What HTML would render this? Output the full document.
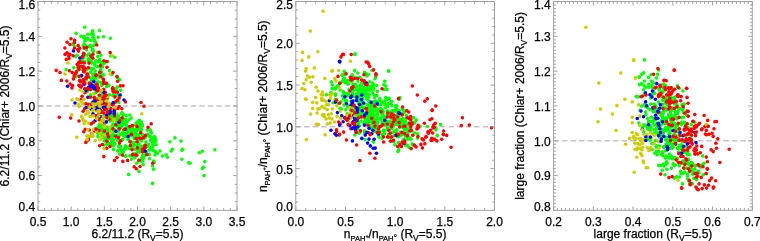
<!DOCTYPE html>
<html><head><meta charset="utf-8"><style>
html,body{margin:0;padding:0;background:#fff;width:760px;height:241px;overflow:hidden}
svg{display:block;will-change:transform}
text{font-family:"Liberation Sans",sans-serif;font-size:12px;fill:#000;stroke:#000;stroke-width:0.25px}
</style></head><body>
<svg width="760" height="241" viewBox="0 0 760 241">
<line x1="38.00" y1="105.95" x2="237.00" y2="105.95" stroke="#c4c4c4" stroke-width="1.5" stroke-dasharray="5.4 3.09"/>
<line x1="295.80" y1="126.84" x2="494.50" y2="126.84" stroke="#c4c4c4" stroke-width="1.5" stroke-dasharray="5.4 3.09"/>
<line x1="553.60" y1="140.77" x2="752.30" y2="140.77" stroke="#c4c4c4" stroke-width="1.5" stroke-dasharray="5.4 3.09"/>
<g fill="#00ff00">
<circle cx="84.3" cy="54.1" r="1.8"/>
<circle cx="138.4" cy="148.9" r="1.8"/>
<circle cx="80.9" cy="66.9" r="1.8"/>
<circle cx="138.7" cy="127.9" r="1.8"/>
<circle cx="122.3" cy="151.8" r="1.8"/>
<circle cx="95.8" cy="42.5" r="1.8"/>
<circle cx="111.3" cy="129.0" r="1.8"/>
<circle cx="137.3" cy="137.1" r="1.8"/>
<circle cx="139.5" cy="151.9" r="1.8"/>
<circle cx="104.3" cy="63.3" r="1.8"/>
<circle cx="139.9" cy="127.3" r="1.8"/>
<circle cx="100.0" cy="74.7" r="1.8"/>
<circle cx="104.1" cy="115.8" r="1.8"/>
<circle cx="149.7" cy="136.4" r="1.8"/>
<circle cx="204.1" cy="175.6" r="1.8"/>
<circle cx="143.0" cy="157.3" r="1.8"/>
<circle cx="123.4" cy="135.4" r="1.8"/>
<circle cx="111.8" cy="143.5" r="1.8"/>
<circle cx="90.6" cy="72.3" r="1.8"/>
<circle cx="101.6" cy="72.1" r="1.8"/>
<circle cx="110.2" cy="120.9" r="1.8"/>
<circle cx="128.7" cy="174.5" r="1.8"/>
<circle cx="102.5" cy="135.5" r="1.8"/>
<circle cx="138.3" cy="148.7" r="1.8"/>
<circle cx="143.2" cy="164.6" r="1.8"/>
<circle cx="113.3" cy="145.9" r="1.8"/>
<circle cx="97.7" cy="52.5" r="1.8"/>
<circle cx="129.0" cy="119.8" r="1.8"/>
<circle cx="106.8" cy="141.2" r="1.8"/>
<circle cx="95.5" cy="92.8" r="1.8"/>
<circle cx="162.4" cy="156.0" r="1.8"/>
<circle cx="111.2" cy="113.0" r="1.8"/>
<circle cx="120.7" cy="90.2" r="1.8"/>
<circle cx="92.7" cy="30.8" r="1.8"/>
<circle cx="141.7" cy="146.6" r="1.8"/>
<circle cx="135.0" cy="129.8" r="1.8"/>
<circle cx="141.8" cy="160.0" r="1.8"/>
<circle cx="101.1" cy="97.9" r="1.8"/>
<circle cx="112.4" cy="119.1" r="1.8"/>
<circle cx="124.6" cy="122.5" r="1.8"/>
<circle cx="153.4" cy="150.4" r="1.8"/>
<circle cx="103.9" cy="74.7" r="1.8"/>
<circle cx="93.7" cy="79.3" r="1.8"/>
<circle cx="133.0" cy="131.3" r="1.8"/>
<circle cx="97.4" cy="66.6" r="1.8"/>
<circle cx="134.4" cy="138.5" r="1.8"/>
<circle cx="145.6" cy="152.3" r="1.8"/>
<circle cx="103.0" cy="78.7" r="1.8"/>
<circle cx="144.7" cy="155.2" r="1.8"/>
<circle cx="149.4" cy="158.7" r="1.8"/>
<circle cx="103.7" cy="116.8" r="1.8"/>
<circle cx="134.9" cy="157.7" r="1.8"/>
<circle cx="155.5" cy="141.2" r="1.8"/>
<circle cx="130.6" cy="135.8" r="1.8"/>
<circle cx="109.5" cy="118.3" r="1.8"/>
<circle cx="142.1" cy="124.2" r="1.8"/>
<circle cx="129.9" cy="127.8" r="1.8"/>
<circle cx="99.6" cy="30.5" r="1.8"/>
<circle cx="126.0" cy="133.3" r="1.8"/>
<circle cx="119.1" cy="125.3" r="1.8"/>
<circle cx="121.4" cy="123.6" r="1.8"/>
<circle cx="154.1" cy="162.2" r="1.8"/>
<circle cx="130.8" cy="127.8" r="1.8"/>
<circle cx="121.1" cy="119.8" r="1.8"/>
<circle cx="155.0" cy="155.0" r="1.8"/>
<circle cx="155.3" cy="138.4" r="1.8"/>
<circle cx="86.4" cy="70.0" r="1.8"/>
<circle cx="106.2" cy="128.8" r="1.8"/>
<circle cx="111.7" cy="135.4" r="1.8"/>
<circle cx="103.6" cy="131.0" r="1.8"/>
<circle cx="114.7" cy="57.2" r="1.8"/>
<circle cx="188.5" cy="162.7" r="1.8"/>
<circle cx="98.8" cy="76.9" r="1.8"/>
<circle cx="114.1" cy="113.6" r="1.8"/>
<circle cx="95.3" cy="84.2" r="1.8"/>
<circle cx="85.6" cy="48.7" r="1.8"/>
<circle cx="100.5" cy="125.2" r="1.8"/>
<circle cx="112.9" cy="136.3" r="1.8"/>
<circle cx="122.0" cy="112.9" r="1.8"/>
<circle cx="109.4" cy="116.1" r="1.8"/>
<circle cx="84.4" cy="61.8" r="1.8"/>
<circle cx="124.8" cy="148.4" r="1.8"/>
<circle cx="136.6" cy="131.3" r="1.8"/>
<circle cx="119.0" cy="146.9" r="1.8"/>
<circle cx="127.4" cy="126.5" r="1.8"/>
<circle cx="120.6" cy="149.9" r="1.8"/>
<circle cx="98.1" cy="82.1" r="1.8"/>
<circle cx="104.4" cy="121.8" r="1.8"/>
<circle cx="133.0" cy="155.8" r="1.8"/>
<circle cx="112.0" cy="132.2" r="1.8"/>
<circle cx="91.0" cy="123.9" r="1.8"/>
<circle cx="114.1" cy="143.1" r="1.8"/>
<circle cx="87.9" cy="34.2" r="1.8"/>
<circle cx="90.8" cy="108.5" r="1.8"/>
<circle cx="93.1" cy="81.1" r="1.8"/>
<circle cx="92.8" cy="37.3" r="1.8"/>
<circle cx="86.5" cy="49.7" r="1.8"/>
<circle cx="113.0" cy="124.1" r="1.8"/>
<circle cx="115.9" cy="118.2" r="1.8"/>
<circle cx="110.0" cy="137.6" r="1.8"/>
<circle cx="136.9" cy="122.2" r="1.8"/>
<circle cx="95.3" cy="100.5" r="1.8"/>
<circle cx="88.4" cy="58.8" r="1.8"/>
<circle cx="99.5" cy="99.1" r="1.8"/>
<circle cx="139.2" cy="120.4" r="1.8"/>
<circle cx="116.9" cy="126.1" r="1.8"/>
<circle cx="89.0" cy="46.6" r="1.8"/>
<circle cx="135.0" cy="149.2" r="1.8"/>
<circle cx="104.4" cy="140.9" r="1.8"/>
<circle cx="116.0" cy="131.0" r="1.8"/>
<circle cx="150.8" cy="149.5" r="1.8"/>
<circle cx="97.8" cy="127.8" r="1.8"/>
<circle cx="93.4" cy="68.7" r="1.8"/>
<circle cx="101.2" cy="132.6" r="1.8"/>
<circle cx="138.8" cy="144.6" r="1.8"/>
<circle cx="134.9" cy="132.4" r="1.8"/>
<circle cx="100.2" cy="103.9" r="1.8"/>
<circle cx="139.9" cy="121.0" r="1.8"/>
<circle cx="99.9" cy="73.2" r="1.8"/>
<circle cx="99.2" cy="124.9" r="1.8"/>
<circle cx="182.8" cy="149.3" r="1.8"/>
<circle cx="144.5" cy="147.8" r="1.8"/>
<circle cx="76.1" cy="76.6" r="1.8"/>
<circle cx="114.9" cy="91.1" r="1.8"/>
<circle cx="100.2" cy="97.5" r="1.8"/>
<circle cx="90.2" cy="45.3" r="1.8"/>
<circle cx="102.2" cy="131.2" r="1.8"/>
<circle cx="94.6" cy="41.3" r="1.8"/>
<circle cx="101.1" cy="62.6" r="1.8"/>
<circle cx="116.3" cy="119.8" r="1.8"/>
<circle cx="147.8" cy="134.5" r="1.8"/>
<circle cx="87.9" cy="38.4" r="1.8"/>
<circle cx="148.0" cy="135.1" r="1.8"/>
<circle cx="138.4" cy="134.9" r="1.8"/>
<circle cx="142.4" cy="126.1" r="1.8"/>
<circle cx="101.0" cy="82.5" r="1.8"/>
<circle cx="97.9" cy="133.3" r="1.8"/>
<circle cx="87.6" cy="91.1" r="1.8"/>
<circle cx="101.5" cy="92.1" r="1.8"/>
<circle cx="149.0" cy="150.0" r="1.8"/>
<circle cx="100.0" cy="65.9" r="1.8"/>
<circle cx="102.5" cy="136.0" r="1.8"/>
<circle cx="112.3" cy="126.4" r="1.8"/>
<circle cx="102.2" cy="133.4" r="1.8"/>
<circle cx="113.2" cy="94.8" r="1.8"/>
<circle cx="100.8" cy="64.7" r="1.8"/>
<circle cx="137.9" cy="145.8" r="1.8"/>
<circle cx="106.9" cy="139.2" r="1.8"/>
<circle cx="155.2" cy="151.4" r="1.8"/>
<circle cx="116.2" cy="117.4" r="1.8"/>
<circle cx="130.4" cy="133.4" r="1.8"/>
<circle cx="119.2" cy="145.6" r="1.8"/>
<circle cx="122.6" cy="122.9" r="1.8"/>
<circle cx="121.9" cy="140.4" r="1.8"/>
<circle cx="155.7" cy="140.8" r="1.8"/>
<circle cx="85.0" cy="40.9" r="1.8"/>
<circle cx="120.4" cy="95.2" r="1.8"/>
<circle cx="137.6" cy="122.6" r="1.8"/>
<circle cx="85.5" cy="45.9" r="1.8"/>
<circle cx="90.7" cy="55.2" r="1.8"/>
<circle cx="134.0" cy="154.9" r="1.8"/>
<circle cx="123.7" cy="130.1" r="1.8"/>
<circle cx="104.0" cy="133.3" r="1.8"/>
<circle cx="78.8" cy="69.1" r="1.8"/>
<circle cx="111.5" cy="116.6" r="1.8"/>
<circle cx="153.2" cy="139.9" r="1.8"/>
<circle cx="154.9" cy="138.0" r="1.8"/>
<circle cx="202.4" cy="168.4" r="1.8"/>
<circle cx="117.7" cy="150.9" r="1.8"/>
<circle cx="157.4" cy="153.5" r="1.8"/>
<circle cx="126.5" cy="129.7" r="1.8"/>
<circle cx="126.4" cy="125.2" r="1.8"/>
<circle cx="199.3" cy="152.8" r="1.8"/>
<circle cx="136.6" cy="155.3" r="1.8"/>
<circle cx="146.0" cy="142.0" r="1.8"/>
<circle cx="90.8" cy="40.5" r="1.8"/>
<circle cx="104.1" cy="124.0" r="1.8"/>
<circle cx="103.0" cy="123.2" r="1.8"/>
<circle cx="95.8" cy="78.8" r="1.8"/>
<circle cx="140.2" cy="124.9" r="1.8"/>
<circle cx="110.7" cy="56.0" r="1.8"/>
<circle cx="142.4" cy="159.0" r="1.8"/>
<circle cx="91.7" cy="68.9" r="1.8"/>
<circle cx="111.6" cy="140.5" r="1.8"/>
<circle cx="150.4" cy="130.0" r="1.8"/>
<circle cx="129.7" cy="115.0" r="1.8"/>
<circle cx="104.3" cy="102.8" r="1.8"/>
<circle cx="141.5" cy="129.6" r="1.8"/>
<circle cx="91.0" cy="78.5" r="1.8"/>
<circle cx="166.1" cy="154.8" r="1.8"/>
<circle cx="92.6" cy="49.2" r="1.8"/>
<circle cx="137.0" cy="128.3" r="1.8"/>
<circle cx="103.8" cy="132.6" r="1.8"/>
<circle cx="81.8" cy="60.5" r="1.8"/>
<circle cx="94.5" cy="74.2" r="1.8"/>
<circle cx="118.6" cy="130.7" r="1.8"/>
<circle cx="129.7" cy="129.3" r="1.8"/>
<circle cx="203.5" cy="167.3" r="1.8"/>
<circle cx="116.9" cy="114.0" r="1.8"/>
<circle cx="93.5" cy="76.5" r="1.8"/>
<circle cx="76.0" cy="33.4" r="1.8"/>
<circle cx="143.7" cy="158.0" r="1.8"/>
<circle cx="114.4" cy="88.7" r="1.8"/>
<circle cx="136.1" cy="123.9" r="1.8"/>
<circle cx="101.1" cy="124.3" r="1.8"/>
<circle cx="119.9" cy="146.1" r="1.8"/>
<circle cx="138.9" cy="122.8" r="1.8"/>
<circle cx="151.1" cy="148.4" r="1.8"/>
<circle cx="135.1" cy="153.7" r="1.8"/>
<circle cx="111.3" cy="114.8" r="1.8"/>
<circle cx="95.6" cy="74.3" r="1.8"/>
<circle cx="117.0" cy="95.1" r="1.8"/>
<circle cx="108.5" cy="103.5" r="1.8"/>
<circle cx="102.5" cy="130.5" r="1.8"/>
<circle cx="122.8" cy="139.3" r="1.8"/>
<circle cx="140.8" cy="122.2" r="1.8"/>
<circle cx="147.7" cy="146.4" r="1.8"/>
<circle cx="102.5" cy="90.3" r="1.8"/>
<circle cx="78.1" cy="69.4" r="1.8"/>
<circle cx="91.5" cy="80.9" r="1.8"/>
<circle cx="134.5" cy="145.2" r="1.8"/>
<circle cx="156.1" cy="144.7" r="1.8"/>
<circle cx="148.4" cy="144.5" r="1.8"/>
<circle cx="136.7" cy="163.2" r="1.8"/>
<circle cx="125.4" cy="119.5" r="1.8"/>
<circle cx="108.2" cy="131.3" r="1.8"/>
<circle cx="92.5" cy="57.0" r="1.8"/>
<circle cx="131.2" cy="118.1" r="1.8"/>
<circle cx="121.8" cy="113.6" r="1.8"/>
<circle cx="115.0" cy="143.7" r="1.8"/>
<circle cx="126.8" cy="122.2" r="1.8"/>
<circle cx="111.1" cy="137.6" r="1.8"/>
<circle cx="87.2" cy="55.3" r="1.8"/>
<circle cx="141.2" cy="122.1" r="1.8"/>
<circle cx="99.7" cy="59.5" r="1.8"/>
<circle cx="96.7" cy="128.7" r="1.8"/>
<circle cx="90.1" cy="68.3" r="1.8"/>
<circle cx="128.2" cy="139.5" r="1.8"/>
<circle cx="127.2" cy="147.0" r="1.8"/>
<circle cx="125.2" cy="136.6" r="1.8"/>
<circle cx="174.9" cy="137.9" r="1.8"/>
<circle cx="117.0" cy="117.9" r="1.8"/>
<circle cx="113.5" cy="149.6" r="1.8"/>
<circle cx="109.4" cy="119.9" r="1.8"/>
<circle cx="131.9" cy="132.0" r="1.8"/>
<circle cx="132.5" cy="127.9" r="1.8"/>
<circle cx="119.7" cy="79.7" r="1.8"/>
<circle cx="110.3" cy="146.0" r="1.8"/>
<circle cx="123.5" cy="114.9" r="1.8"/>
<circle cx="83.1" cy="45.5" r="1.8"/>
<circle cx="101.9" cy="125.3" r="1.8"/>
<circle cx="135.0" cy="138.4" r="1.8"/>
<circle cx="153.7" cy="144.1" r="1.8"/>
<circle cx="122.8" cy="132.7" r="1.8"/>
<circle cx="131.5" cy="131.9" r="1.8"/>
<circle cx="105.9" cy="139.7" r="1.8"/>
<circle cx="128.4" cy="139.2" r="1.8"/>
<circle cx="116.6" cy="138.5" r="1.8"/>
<circle cx="113.5" cy="116.8" r="1.8"/>
<circle cx="144.6" cy="138.0" r="1.8"/>
<circle cx="118.7" cy="129.7" r="1.8"/>
<circle cx="132.5" cy="147.3" r="1.8"/>
<circle cx="97.3" cy="85.7" r="1.8"/>
<circle cx="123.6" cy="150.3" r="1.8"/>
<circle cx="83.1" cy="70.2" r="1.8"/>
<circle cx="131.7" cy="126.6" r="1.8"/>
<circle cx="104.9" cy="128.2" r="1.8"/>
<circle cx="97.9" cy="98.3" r="1.8"/>
<circle cx="202.4" cy="151.2" r="1.8"/>
<circle cx="152.7" cy="137.9" r="1.8"/>
<circle cx="142.0" cy="157.6" r="1.8"/>
<circle cx="83.9" cy="37.9" r="1.8"/>
<circle cx="150.7" cy="139.8" r="1.8"/>
<circle cx="91.3" cy="33.9" r="1.8"/>
<circle cx="100.8" cy="132.0" r="1.8"/>
<circle cx="113.7" cy="125.8" r="1.8"/>
<circle cx="92.8" cy="88.9" r="1.8"/>
<circle cx="116.5" cy="135.5" r="1.8"/>
<circle cx="106.0" cy="133.0" r="1.8"/>
<circle cx="112.8" cy="95.5" r="1.8"/>
<circle cx="94.2" cy="38.9" r="1.8"/>
<circle cx="103.9" cy="145.0" r="1.8"/>
<circle cx="125.9" cy="155.8" r="1.8"/>
<circle cx="86.2" cy="79.7" r="1.8"/>
<circle cx="73.8" cy="67.8" r="1.8"/>
<circle cx="88.9" cy="54.1" r="1.8"/>
<circle cx="154.3" cy="136.6" r="1.8"/>
<circle cx="80.6" cy="62.2" r="1.8"/>
<circle cx="125.7" cy="148.7" r="1.8"/>
<circle cx="102.2" cy="91.5" r="1.8"/>
<circle cx="147.3" cy="130.1" r="1.8"/>
<circle cx="141.6" cy="150.3" r="1.8"/>
<circle cx="86.7" cy="38.9" r="1.8"/>
<circle cx="108.8" cy="85.4" r="1.8"/>
<circle cx="89.4" cy="77.2" r="1.8"/>
<circle cx="153.9" cy="150.6" r="1.8"/>
<circle cx="84.3" cy="44.0" r="1.8"/>
<circle cx="89.5" cy="136.3" r="1.8"/>
<circle cx="109.7" cy="116.8" r="1.8"/>
<circle cx="120.6" cy="127.4" r="1.8"/>
<circle cx="101.8" cy="95.3" r="1.8"/>
<circle cx="133.9" cy="142.6" r="1.8"/>
<circle cx="113.6" cy="134.8" r="1.8"/>
<circle cx="139.0" cy="171.4" r="1.8"/>
<circle cx="114.1" cy="129.5" r="1.8"/>
<circle cx="104.1" cy="102.7" r="1.8"/>
<circle cx="93.4" cy="35.0" r="1.8"/>
<circle cx="151.3" cy="133.1" r="1.8"/>
<circle cx="93.7" cy="45.4" r="1.8"/>
<circle cx="138.9" cy="160.9" r="1.8"/>
<circle cx="98.2" cy="37.2" r="1.8"/>
<circle cx="113.5" cy="130.3" r="1.8"/>
<circle cx="122.9" cy="118.6" r="1.8"/>
<circle cx="101.9" cy="75.4" r="1.8"/>
<circle cx="107.5" cy="128.9" r="1.8"/>
<circle cx="121.2" cy="124.6" r="1.8"/>
<circle cx="121.7" cy="126.2" r="1.8"/>
<circle cx="108.3" cy="135.7" r="1.8"/>
<circle cx="130.0" cy="127.4" r="1.8"/>
<circle cx="151.0" cy="140.4" r="1.8"/>
<circle cx="126.3" cy="115.7" r="1.8"/>
<circle cx="154.1" cy="140.1" r="1.8"/>
<circle cx="92.5" cy="33.5" r="1.8"/>
<circle cx="115.8" cy="89.3" r="1.8"/>
<circle cx="146.0" cy="152.3" r="1.8"/>
<circle cx="141.2" cy="130.4" r="1.8"/>
<circle cx="118.4" cy="139.6" r="1.8"/>
<circle cx="204.9" cy="161.5" r="1.8"/>
<circle cx="109.5" cy="94.8" r="1.8"/>
<circle cx="84.3" cy="47.1" r="1.8"/>
<circle cx="98.5" cy="99.1" r="1.8"/>
<circle cx="151.1" cy="132.3" r="1.8"/>
<circle cx="100.7" cy="97.0" r="1.8"/>
<circle cx="111.8" cy="74.5" r="1.8"/>
<circle cx="95.5" cy="128.6" r="1.8"/>
<circle cx="76.2" cy="75.5" r="1.8"/>
<circle cx="181.8" cy="159.3" r="1.8"/>
<circle cx="94.7" cy="63.8" r="1.8"/>
<circle cx="112.2" cy="88.7" r="1.8"/>
<circle cx="127.4" cy="135.0" r="1.8"/>
<circle cx="106.7" cy="85.0" r="1.8"/>
<circle cx="102.6" cy="126.9" r="1.8"/>
<circle cx="107.4" cy="127.4" r="1.8"/>
<circle cx="104.4" cy="115.5" r="1.8"/>
<circle cx="109.6" cy="115.1" r="1.8"/>
<circle cx="110.4" cy="137.5" r="1.8"/>
<circle cx="103.6" cy="133.9" r="1.8"/>
<circle cx="137.3" cy="145.5" r="1.8"/>
<circle cx="84.6" cy="61.8" r="1.8"/>
<circle cx="105.6" cy="137.7" r="1.8"/>
<circle cx="90.4" cy="95.1" r="1.8"/>
<circle cx="129.4" cy="148.8" r="1.8"/>
<circle cx="107.9" cy="128.4" r="1.8"/>
<circle cx="120.2" cy="118.5" r="1.8"/>
<circle cx="131.4" cy="144.1" r="1.8"/>
<circle cx="129.9" cy="155.8" r="1.8"/>
<circle cx="136.0" cy="125.3" r="1.8"/>
<circle cx="115.4" cy="124.2" r="1.8"/>
<circle cx="154.4" cy="141.5" r="1.8"/>
<circle cx="119.6" cy="154.1" r="1.8"/>
<circle cx="94.0" cy="97.0" r="1.8"/>
<circle cx="100.1" cy="124.9" r="1.8"/>
<circle cx="104.3" cy="122.9" r="1.8"/>
<circle cx="152.6" cy="143.0" r="1.8"/>
<circle cx="101.1" cy="128.3" r="1.8"/>
<circle cx="109.7" cy="138.8" r="1.8"/>
<circle cx="171.1" cy="151.0" r="1.8"/>
<circle cx="106.3" cy="127.7" r="1.8"/>
<circle cx="83.8" cy="36.6" r="1.8"/>
<circle cx="151.1" cy="148.2" r="1.8"/>
<circle cx="121.8" cy="125.3" r="1.8"/>
<circle cx="120.2" cy="119.6" r="1.8"/>
<circle cx="143.0" cy="135.2" r="1.8"/>
<circle cx="125.0" cy="120.1" r="1.8"/>
<circle cx="160.0" cy="151.0" r="1.8"/>
<circle cx="123.1" cy="152.3" r="1.8"/>
<circle cx="90.9" cy="46.6" r="1.8"/>
<circle cx="91.7" cy="61.8" r="1.8"/>
<circle cx="100.1" cy="71.4" r="1.8"/>
<circle cx="122.9" cy="133.5" r="1.8"/>
<circle cx="137.7" cy="151.8" r="1.8"/>
<circle cx="98.0" cy="136.6" r="1.8"/>
<circle cx="100.4" cy="126.6" r="1.8"/>
<circle cx="88.4" cy="60.8" r="1.8"/>
<circle cx="144.9" cy="145.3" r="1.8"/>
<circle cx="144.1" cy="148.5" r="1.8"/>
<circle cx="134.2" cy="136.5" r="1.8"/>
<circle cx="111.1" cy="117.9" r="1.8"/>
<circle cx="141.3" cy="161.1" r="1.8"/>
<circle cx="132.3" cy="135.5" r="1.8"/>
<circle cx="105.8" cy="127.2" r="1.8"/>
<circle cx="117.2" cy="87.0" r="1.8"/>
<circle cx="106.2" cy="98.5" r="1.8"/>
<circle cx="97.5" cy="90.5" r="1.8"/>
<circle cx="93.3" cy="51.4" r="1.8"/>
<circle cx="127.6" cy="131.9" r="1.8"/>
<circle cx="97.8" cy="82.3" r="1.8"/>
<circle cx="120.0" cy="135.0" r="1.8"/>
<circle cx="92.1" cy="69.2" r="1.8"/>
<circle cx="103.9" cy="129.0" r="1.8"/>
<circle cx="133.8" cy="135.4" r="1.8"/>
<circle cx="190.0" cy="163.2" r="1.8"/>
<circle cx="110.4" cy="38.3" r="1.8"/>
<circle cx="142.8" cy="155.2" r="1.8"/>
<circle cx="106.7" cy="144.6" r="1.8"/>
<circle cx="125.3" cy="156.3" r="1.8"/>
<circle cx="132.8" cy="131.7" r="1.8"/>
<circle cx="90.9" cy="58.0" r="1.8"/>
<circle cx="117.8" cy="131.7" r="1.8"/>
<circle cx="153.6" cy="161.0" r="1.8"/>
<circle cx="130.4" cy="134.4" r="1.8"/>
<circle cx="109.4" cy="143.8" r="1.8"/>
<circle cx="90.5" cy="104.0" r="1.8"/>
<circle cx="120.5" cy="146.6" r="1.8"/>
<circle cx="83.8" cy="56.6" r="1.8"/>
<circle cx="167.4" cy="157.3" r="1.8"/>
<circle cx="131.0" cy="141.7" r="1.8"/>
<circle cx="100.6" cy="129.7" r="1.8"/>
<circle cx="155.8" cy="151.9" r="1.8"/>
<circle cx="128.1" cy="128.1" r="1.8"/>
<circle cx="104.5" cy="138.2" r="1.8"/>
<circle cx="93.8" cy="78.3" r="1.8"/>
<circle cx="107.6" cy="99.0" r="1.8"/>
<circle cx="87.9" cy="39.1" r="1.8"/>
<circle cx="125.6" cy="136.8" r="1.8"/>
<circle cx="139.1" cy="136.8" r="1.8"/>
<circle cx="101.3" cy="121.6" r="1.8"/>
<circle cx="142.9" cy="161.0" r="1.8"/>
<circle cx="97.8" cy="56.5" r="1.8"/>
<circle cx="107.3" cy="135.4" r="1.8"/>
<circle cx="141.2" cy="159.9" r="1.8"/>
<circle cx="100.2" cy="131.8" r="1.8"/>
<circle cx="121.5" cy="150.8" r="1.8"/>
<circle cx="152.8" cy="143.4" r="1.8"/>
<circle cx="125.4" cy="145.8" r="1.8"/>
<circle cx="150.0" cy="136.4" r="1.8"/>
<circle cx="113.2" cy="140.1" r="1.8"/>
<circle cx="136.8" cy="134.9" r="1.8"/>
<circle cx="124.1" cy="124.3" r="1.8"/>
<circle cx="125.1" cy="134.5" r="1.8"/>
<circle cx="139.9" cy="130.0" r="1.8"/>
<circle cx="153.7" cy="142.2" r="1.8"/>
<circle cx="169.9" cy="141.8" r="1.8"/>
<circle cx="118.8" cy="116.1" r="1.8"/>
<circle cx="117.0" cy="122.0" r="1.8"/>
<circle cx="136.1" cy="136.8" r="1.8"/>
<circle cx="84.8" cy="27.2" r="1.8"/>
<circle cx="105.1" cy="122.6" r="1.8"/>
<circle cx="152.5" cy="165.8" r="1.8"/>
<circle cx="101.0" cy="55.1" r="1.8"/>
<circle cx="91.8" cy="63.1" r="1.8"/>
<circle cx="105.4" cy="101.9" r="1.8"/>
<circle cx="151.7" cy="147.3" r="1.8"/>
<circle cx="122.2" cy="121.1" r="1.8"/>
<circle cx="181.0" cy="141.1" r="1.8"/>
<circle cx="118.8" cy="102.4" r="1.8"/>
<circle cx="145.2" cy="137.3" r="1.8"/>
<circle cx="141.2" cy="140.9" r="1.8"/>
<circle cx="94.7" cy="65.1" r="1.8"/>
<circle cx="116.8" cy="137.4" r="1.8"/>
<circle cx="134.7" cy="129.7" r="1.8"/>
<circle cx="102.5" cy="63.9" r="1.8"/>
<circle cx="77.0" cy="55.2" r="1.8"/>
<circle cx="118.5" cy="127.6" r="1.8"/>
<circle cx="117.5" cy="126.6" r="1.8"/>
<circle cx="153.6" cy="169.3" r="1.8"/>
<circle cx="130.3" cy="128.7" r="1.8"/>
<circle cx="143.6" cy="149.3" r="1.8"/>
<circle cx="146.6" cy="145.3" r="1.8"/>
<circle cx="103.1" cy="119.8" r="1.8"/>
<circle cx="117.7" cy="140.3" r="1.8"/>
<circle cx="107.8" cy="61.6" r="1.8"/>
<circle cx="172.4" cy="149.3" r="1.8"/>
<circle cx="103.7" cy="92.3" r="1.8"/>
<circle cx="112.2" cy="113.5" r="1.8"/>
<circle cx="84.1" cy="36.6" r="1.8"/>
<circle cx="91.7" cy="85.7" r="1.8"/>
<circle cx="133.1" cy="153.9" r="1.8"/>
<circle cx="95.2" cy="71.1" r="1.8"/>
<circle cx="113.2" cy="90.0" r="1.8"/>
<circle cx="75.7" cy="56.6" r="1.8"/>
<circle cx="149.6" cy="154.6" r="1.8"/>
<circle cx="112.4" cy="120.2" r="1.8"/>
<circle cx="95.8" cy="60.9" r="1.8"/>
<circle cx="83.0" cy="58.2" r="1.8"/>
<circle cx="142.2" cy="134.6" r="1.8"/>
<circle cx="140.3" cy="148.0" r="1.8"/>
<circle cx="109.4" cy="70.5" r="1.8"/>
<circle cx="107.5" cy="114.6" r="1.8"/>
<circle cx="141.6" cy="140.6" r="1.8"/>
<circle cx="153.7" cy="144.2" r="1.8"/>
<circle cx="110.1" cy="136.7" r="1.8"/>
<circle cx="72.9" cy="44.4" r="1.8"/>
<circle cx="66.1" cy="69.8" r="1.8"/>
<circle cx="103.7" cy="36.7" r="1.8"/>
<circle cx="152.5" cy="146.9" r="1.8"/>
<circle cx="106.8" cy="96.2" r="1.8"/>
<circle cx="106.7" cy="86.5" r="1.8"/>
<circle cx="102.5" cy="66.7" r="1.8"/>
<circle cx="81.0" cy="36.2" r="1.8"/>
<circle cx="138.7" cy="139.5" r="1.8"/>
<circle cx="102.1" cy="126.4" r="1.8"/>
<circle cx="214.9" cy="149.7" r="1.8"/>
<circle cx="93.0" cy="74.4" r="1.8"/>
<circle cx="138.6" cy="143.6" r="1.8"/>
<circle cx="74.6" cy="46.8" r="1.8"/>
<circle cx="131.5" cy="159.2" r="1.8"/>
<circle cx="112.6" cy="128.5" r="1.8"/>
<circle cx="101.7" cy="85.4" r="1.8"/>
<circle cx="120.1" cy="146.4" r="1.8"/>
<circle cx="181.8" cy="150.3" r="1.8"/>
<circle cx="140.5" cy="122.5" r="1.8"/>
<circle cx="100.7" cy="70.1" r="1.8"/>
<circle cx="152.5" cy="183.4" r="1.8"/>
<circle cx="92.6" cy="50.6" r="1.8"/>
<circle cx="101.0" cy="67.7" r="1.8"/>
<circle cx="81.8" cy="76.1" r="1.8"/>
<circle cx="98.3" cy="61.9" r="1.8"/>
<circle cx="120.2" cy="134.2" r="1.8"/>
<circle cx="100.1" cy="72.8" r="1.8"/>
<circle cx="89.7" cy="60.4" r="1.8"/>
<circle cx="116.0" cy="131.7" r="1.8"/>
<circle cx="119.9" cy="125.7" r="1.8"/>
<circle cx="117.9" cy="77.9" r="1.8"/>
</g>
<g fill="#ff0000">
<circle cx="132.5" cy="154.7" r="1.8"/>
<circle cx="143.9" cy="148.8" r="1.8"/>
<circle cx="96.7" cy="45.0" r="1.8"/>
<circle cx="70.0" cy="54.2" r="1.8"/>
<circle cx="113.1" cy="105.0" r="1.8"/>
</g>
<g fill="#0000ff">
<circle cx="103.5" cy="102.6" r="1.8"/>
</g>
<g fill="#ff0000">
<circle cx="71.9" cy="88.0" r="1.8"/>
<circle cx="151.2" cy="123.7" r="1.8"/>
</g>
<g fill="#cccc00">
<circle cx="76.9" cy="99.1" r="1.8"/>
</g>
<g fill="#ff0000">
<circle cx="152.8" cy="163.3" r="1.8"/>
</g>
<g fill="#cccc00">
<circle cx="104.1" cy="135.0" r="1.8"/>
</g>
<g fill="#ff0000">
<circle cx="145.1" cy="147.7" r="1.8"/>
<circle cx="87.1" cy="140.6" r="1.8"/>
</g>
<g fill="#0000ff">
<circle cx="73.5" cy="50.9" r="1.8"/>
</g>
<g fill="#ff0000">
<circle cx="120.7" cy="140.8" r="1.8"/>
<circle cx="83.1" cy="111.2" r="1.8"/>
</g>
<g fill="#cccc00">
<circle cx="79.2" cy="105.8" r="1.8"/>
</g>
<g fill="#ff0000">
<circle cx="85.8" cy="103.8" r="1.8"/>
<circle cx="83.5" cy="55.0" r="1.8"/>
</g>
<g fill="#0000ff">
<circle cx="79.9" cy="86.1" r="1.8"/>
</g>
<g fill="#ff0000">
<circle cx="78.0" cy="65.2" r="1.8"/>
<circle cx="112.7" cy="87.9" r="1.8"/>
<circle cx="104.0" cy="113.1" r="1.8"/>
<circle cx="84.2" cy="47.9" r="1.8"/>
<circle cx="99.6" cy="145.7" r="1.8"/>
<circle cx="109.0" cy="119.3" r="1.8"/>
<circle cx="99.6" cy="108.0" r="1.8"/>
<circle cx="115.4" cy="92.1" r="1.8"/>
<circle cx="67.1" cy="52.7" r="1.8"/>
<circle cx="59.3" cy="117.3" r="1.8"/>
<circle cx="105.3" cy="92.3" r="1.8"/>
</g>
<g fill="#0000ff">
<circle cx="106.4" cy="121.9" r="1.8"/>
</g>
<g fill="#ff0000">
<circle cx="127.6" cy="160.4" r="1.8"/>
</g>
<g fill="#0000ff">
<circle cx="93.9" cy="81.6" r="1.8"/>
</g>
<g fill="#ff0000">
<circle cx="90.8" cy="56.1" r="1.8"/>
</g>
<g fill="#cccc00">
<circle cx="98.8" cy="113.3" r="1.8"/>
</g>
<g fill="#ff0000">
<circle cx="79.5" cy="61.9" r="1.8"/>
<circle cx="104.4" cy="131.1" r="1.8"/>
<circle cx="106.9" cy="97.1" r="1.8"/>
<circle cx="102.0" cy="104.2" r="1.8"/>
<circle cx="102.3" cy="101.8" r="1.8"/>
<circle cx="94.9" cy="108.2" r="1.8"/>
</g>
<g fill="#cccc00">
<circle cx="102.4" cy="116.8" r="1.8"/>
</g>
<g fill="#ff0000">
<circle cx="135.7" cy="154.8" r="1.8"/>
<circle cx="109.3" cy="113.8" r="1.8"/>
</g>
<g fill="#cccc00">
<circle cx="72.0" cy="100.0" r="1.8"/>
<circle cx="103.6" cy="125.7" r="1.8"/>
<circle cx="113.9" cy="119.7" r="1.8"/>
<circle cx="86.8" cy="136.1" r="1.8"/>
</g>
<g fill="#ff0000">
<circle cx="131.4" cy="134.5" r="1.8"/>
</g>
<g fill="#0000ff">
<circle cx="88.6" cy="88.2" r="1.8"/>
</g>
<g fill="#ff0000">
<circle cx="101.0" cy="103.7" r="1.8"/>
<circle cx="104.8" cy="97.0" r="1.8"/>
<circle cx="123.0" cy="85.7" r="1.8"/>
</g>
<g fill="#cccc00">
<circle cx="100.0" cy="139.7" r="1.8"/>
<circle cx="92.6" cy="123.0" r="1.8"/>
</g>
<g fill="#ff0000">
<circle cx="65.1" cy="54.4" r="1.8"/>
<circle cx="86.0" cy="77.1" r="1.8"/>
</g>
<g fill="#cccc00">
<circle cx="112.3" cy="55.7" r="1.8"/>
</g>
<g fill="#0000ff">
<circle cx="97.5" cy="108.1" r="1.8"/>
</g>
<g fill="#ff0000">
<circle cx="74.6" cy="40.4" r="1.8"/>
<circle cx="115.9" cy="124.7" r="1.8"/>
</g>
<g fill="#0000ff">
<circle cx="67.6" cy="86.2" r="1.8"/>
</g>
<g fill="#ff0000">
<circle cx="72.3" cy="72.5" r="1.8"/>
</g>
<g fill="#cccc00">
<circle cx="90.9" cy="116.2" r="1.8"/>
</g>
<g fill="#0000ff">
<circle cx="81.4" cy="75.6" r="1.8"/>
</g>
<g fill="#ff0000">
<circle cx="93.0" cy="54.2" r="1.8"/>
<circle cx="83.7" cy="53.2" r="1.8"/>
<circle cx="105.1" cy="83.3" r="1.8"/>
<circle cx="99.2" cy="52.4" r="1.8"/>
<circle cx="144.9" cy="146.0" r="1.8"/>
</g>
<g fill="#cccc00">
<circle cx="84.0" cy="123.7" r="1.8"/>
</g>
<g fill="#ff0000">
<circle cx="82.2" cy="56.9" r="1.8"/>
<circle cx="103.5" cy="81.5" r="1.8"/>
<circle cx="117.6" cy="81.3" r="1.8"/>
<circle cx="73.5" cy="78.9" r="1.8"/>
<circle cx="92.8" cy="58.3" r="1.8"/>
</g>
<g fill="#cccc00">
<circle cx="106.3" cy="115.5" r="1.8"/>
</g>
<g fill="#ff0000">
<circle cx="96.3" cy="87.6" r="1.8"/>
</g>
<g fill="#0000ff">
<circle cx="106.7" cy="115.0" r="1.8"/>
</g>
<g fill="#ff0000">
<circle cx="88.1" cy="104.3" r="1.8"/>
<circle cx="91.7" cy="133.5" r="1.8"/>
<circle cx="71.0" cy="38.8" r="1.8"/>
<circle cx="96.0" cy="89.4" r="1.8"/>
<circle cx="119.2" cy="106.5" r="1.8"/>
<circle cx="107.8" cy="133.9" r="1.8"/>
</g>
<g fill="#cccc00">
<circle cx="79.1" cy="106.6" r="1.8"/>
</g>
<g fill="#0000ff">
<circle cx="100.2" cy="116.6" r="1.8"/>
</g>
<g fill="#ff0000">
<circle cx="83.3" cy="69.0" r="1.8"/>
</g>
<g fill="#cccc00">
<circle cx="99.7" cy="91.6" r="1.8"/>
<circle cx="68.0" cy="63.0" r="1.8"/>
<circle cx="80.0" cy="90.0" r="1.8"/>
</g>
<g fill="#ff0000">
<circle cx="75.7" cy="73.4" r="1.8"/>
<circle cx="106.6" cy="148.3" r="1.8"/>
</g>
<g fill="#cccc00">
<circle cx="109.6" cy="103.4" r="1.8"/>
</g>
<g fill="#ff0000">
<circle cx="79.0" cy="121.0" r="1.8"/>
</g>
<g fill="#cccc00">
<circle cx="89.9" cy="116.3" r="1.8"/>
</g>
<g fill="#ff0000">
<circle cx="69.9" cy="44.5" r="1.8"/>
</g>
<g fill="#cccc00">
<circle cx="110.0" cy="74.0" r="1.8"/>
<circle cx="115.6" cy="113.9" r="1.8"/>
<circle cx="107.7" cy="107.7" r="1.8"/>
</g>
<g fill="#ff0000">
<circle cx="83.7" cy="80.4" r="1.8"/>
</g>
<g fill="#cccc00">
<circle cx="113.9" cy="119.8" r="1.8"/>
</g>
<g fill="#ff0000">
<circle cx="77.2" cy="64.3" r="1.8"/>
</g>
<g fill="#cccc00">
<circle cx="85.3" cy="121.3" r="1.8"/>
</g>
<g fill="#ff0000">
<circle cx="137.1" cy="126.4" r="1.8"/>
<circle cx="114.9" cy="96.9" r="1.8"/>
<circle cx="85.3" cy="129.3" r="1.8"/>
</g>
<g fill="#cccc00">
<circle cx="115.4" cy="109.5" r="1.8"/>
</g>
<g fill="#ff0000">
<circle cx="121.8" cy="108.8" r="1.8"/>
<circle cx="115.7" cy="102.0" r="1.8"/>
<circle cx="120.4" cy="85.9" r="1.8"/>
<circle cx="81.2" cy="62.4" r="1.8"/>
</g>
<g fill="#cccc00">
<circle cx="107.2" cy="96.5" r="1.8"/>
</g>
<g fill="#ff0000">
<circle cx="84.9" cy="92.7" r="1.8"/>
<circle cx="122.4" cy="155.1" r="1.8"/>
<circle cx="84.1" cy="63.0" r="1.8"/>
<circle cx="137.0" cy="141.8" r="1.8"/>
<circle cx="97.2" cy="90.4" r="1.8"/>
<circle cx="125.5" cy="102.0" r="1.8"/>
<circle cx="136.3" cy="168.7" r="1.8"/>
</g>
<g fill="#cccc00">
<circle cx="90.7" cy="105.5" r="1.8"/>
</g>
<g fill="#ff0000">
<circle cx="132.1" cy="149.8" r="1.8"/>
<circle cx="95.9" cy="115.9" r="1.8"/>
<circle cx="103.8" cy="156.6" r="1.8"/>
<circle cx="83.6" cy="83.4" r="1.8"/>
<circle cx="129.8" cy="126.5" r="1.8"/>
<circle cx="112.2" cy="104.5" r="1.8"/>
<circle cx="101.4" cy="104.2" r="1.8"/>
</g>
<g fill="#cccc00">
<circle cx="99.3" cy="103.4" r="1.8"/>
</g>
<g fill="#0000ff">
<circle cx="79.9" cy="58.1" r="1.8"/>
</g>
<g fill="#ff0000">
<circle cx="81.5" cy="86.0" r="1.8"/>
<circle cx="98.1" cy="115.0" r="1.8"/>
</g>
<g fill="#cccc00">
<circle cx="98.1" cy="117.0" r="1.8"/>
</g>
<g fill="#0000ff">
<circle cx="107.8" cy="111.7" r="1.8"/>
</g>
<g fill="#ff0000">
<circle cx="73.2" cy="55.8" r="1.8"/>
<circle cx="78.6" cy="62.9" r="1.8"/>
<circle cx="145.2" cy="145.2" r="1.8"/>
</g>
<g fill="#0000ff">
<circle cx="94.2" cy="86.7" r="1.8"/>
</g>
<g fill="#cccc00">
<circle cx="101.1" cy="107.4" r="1.8"/>
</g>
<g fill="#0000ff">
<circle cx="106.9" cy="106.3" r="1.8"/>
<circle cx="115.8" cy="131.2" r="1.8"/>
</g>
<g fill="#ff0000">
<circle cx="91.5" cy="104.5" r="1.8"/>
<circle cx="80.7" cy="81.8" r="1.8"/>
<circle cx="104.7" cy="99.4" r="1.8"/>
</g>
<g fill="#0000ff">
<circle cx="84.8" cy="89.0" r="1.8"/>
</g>
<g fill="#ff0000">
<circle cx="80.3" cy="80.6" r="1.8"/>
<circle cx="79.6" cy="80.5" r="1.8"/>
<circle cx="78.3" cy="67.2" r="1.8"/>
</g>
<g fill="#0000ff">
<circle cx="104.7" cy="108.5" r="1.8"/>
</g>
<g fill="#cccc00">
<circle cx="96.2" cy="110.8" r="1.8"/>
</g>
<g fill="#0000ff">
<circle cx="97.3" cy="90.6" r="1.8"/>
</g>
<g fill="#ff0000">
<circle cx="69.0" cy="58.6" r="1.8"/>
<circle cx="131.6" cy="134.3" r="1.8"/>
<circle cx="98.3" cy="87.9" r="1.8"/>
<circle cx="106.8" cy="108.7" r="1.8"/>
<circle cx="103.4" cy="79.2" r="1.8"/>
<circle cx="84.6" cy="108.9" r="1.8"/>
</g>
<g fill="#0000ff">
<circle cx="84.4" cy="84.3" r="1.8"/>
</g>
<g fill="#ff0000">
<circle cx="70.1" cy="84.1" r="1.8"/>
<circle cx="130.4" cy="145.6" r="1.8"/>
</g>
<g fill="#cccc00">
<circle cx="96.5" cy="102.7" r="1.8"/>
</g>
<g fill="#ff0000">
<circle cx="95.7" cy="108.3" r="1.8"/>
</g>
<g fill="#0000ff">
<circle cx="88.6" cy="87.2" r="1.8"/>
</g>
<g fill="#ff0000">
<circle cx="105.3" cy="106.6" r="1.8"/>
<circle cx="108.4" cy="136.9" r="1.8"/>
</g>
<g fill="#cccc00">
<circle cx="100.2" cy="133.4" r="1.8"/>
</g>
<g fill="#0000ff">
<circle cx="124.0" cy="100.0" r="1.8"/>
</g>
<g fill="#cccc00">
<circle cx="108.1" cy="105.8" r="1.8"/>
</g>
<g fill="#0000ff">
<circle cx="100.1" cy="109.9" r="1.8"/>
</g>
<g fill="#ff0000">
<circle cx="117.5" cy="100.3" r="1.8"/>
<circle cx="70.7" cy="118.1" r="1.8"/>
<circle cx="89.0" cy="63.1" r="1.8"/>
<circle cx="113.0" cy="72.6" r="1.8"/>
<circle cx="60.0" cy="72.5" r="1.8"/>
<circle cx="114.7" cy="115.7" r="1.8"/>
<circle cx="94.3" cy="97.6" r="1.8"/>
<circle cx="117.9" cy="108.5" r="1.8"/>
</g>
<g fill="#cccc00">
<circle cx="141.8" cy="113.7" r="1.8"/>
</g>
<g fill="#ff0000">
<circle cx="139.4" cy="138.2" r="1.8"/>
<circle cx="82.1" cy="96.2" r="1.8"/>
</g>
<g fill="#cccc00">
<circle cx="95.3" cy="140.7" r="1.8"/>
</g>
<g fill="#ff0000">
<circle cx="87.6" cy="74.2" r="1.8"/>
</g>
<g fill="#cccc00">
<circle cx="104.0" cy="148.6" r="1.8"/>
</g>
<g fill="#0000ff">
<circle cx="91.1" cy="84.0" r="1.8"/>
</g>
<g fill="#ff0000">
<circle cx="140.1" cy="166.5" r="1.8"/>
</g>
<g fill="#cccc00">
<circle cx="65.0" cy="74.0" r="1.8"/>
</g>
<g fill="#ff0000">
<circle cx="89.3" cy="130.0" r="1.8"/>
</g>
<g fill="#0000ff">
<circle cx="93.0" cy="113.9" r="1.8"/>
</g>
<g fill="#cccc00">
<circle cx="102.1" cy="106.9" r="1.8"/>
</g>
<g fill="#ff0000">
<circle cx="144.0" cy="106.2" r="1.8"/>
</g>
<g fill="#cccc00">
<circle cx="113.9" cy="120.0" r="1.8"/>
<circle cx="106.1" cy="101.2" r="1.8"/>
</g>
<g fill="#ff0000">
<circle cx="81.4" cy="66.3" r="1.8"/>
</g>
<g fill="#cccc00">
<circle cx="98.2" cy="105.2" r="1.8"/>
</g>
<g fill="#ff0000">
<circle cx="76.3" cy="71.9" r="1.8"/>
<circle cx="79.0" cy="69.6" r="1.8"/>
</g>
<g fill="#0000ff">
<circle cx="95.9" cy="105.9" r="1.8"/>
</g>
<g fill="#ff0000">
<circle cx="81.1" cy="87.1" r="1.8"/>
<circle cx="110.8" cy="108.6" r="1.8"/>
</g>
<g fill="#0000ff">
<circle cx="119.0" cy="122.3" r="1.8"/>
</g>
<g fill="#ff0000">
<circle cx="83.8" cy="131.7" r="1.8"/>
<circle cx="143.5" cy="137.6" r="1.8"/>
<circle cx="95.0" cy="99.5" r="1.8"/>
<circle cx="114.3" cy="109.6" r="1.8"/>
</g>
<g fill="#cccc00">
<circle cx="102.9" cy="121.6" r="1.8"/>
<circle cx="101.8" cy="137.8" r="1.8"/>
<circle cx="91.8" cy="108.2" r="1.8"/>
</g>
<g fill="#0000ff">
<circle cx="86.3" cy="107.5" r="1.8"/>
</g>
<g fill="#cccc00">
<circle cx="93.3" cy="115.8" r="1.8"/>
</g>
<g fill="#ff0000">
<circle cx="74.1" cy="75.9" r="1.8"/>
<circle cx="136.8" cy="155.1" r="1.8"/>
<circle cx="56.2" cy="70.4" r="1.8"/>
<circle cx="114.0" cy="102.8" r="1.8"/>
</g>
<g fill="#cccc00">
<circle cx="82.5" cy="103.6" r="1.8"/>
</g>
<g fill="#ff0000">
<circle cx="122.8" cy="161.4" r="1.8"/>
</g>
<g fill="#0000ff">
<circle cx="99.0" cy="117.8" r="1.8"/>
</g>
<g fill="#cccc00">
<circle cx="81.6" cy="116.4" r="1.8"/>
<circle cx="112.0" cy="111.4" r="1.8"/>
<circle cx="106.4" cy="101.2" r="1.8"/>
</g>
<g fill="#0000ff">
<circle cx="91.7" cy="87.3" r="1.8"/>
</g>
<g fill="#ff0000">
<circle cx="103.7" cy="89.2" r="1.8"/>
</g>
<g fill="#cccc00">
<circle cx="98.8" cy="115.9" r="1.8"/>
<circle cx="99.9" cy="121.1" r="1.8"/>
<circle cx="104.7" cy="110.5" r="1.8"/>
</g>
<g fill="#ff0000">
<circle cx="106.3" cy="83.3" r="1.8"/>
</g>
<g fill="#0000ff">
<circle cx="145.3" cy="151.2" r="1.8"/>
<circle cx="95.1" cy="120.8" r="1.8"/>
</g>
<g fill="#ff0000">
<circle cx="94.6" cy="131.0" r="1.8"/>
<circle cx="67.1" cy="42.3" r="1.8"/>
<circle cx="101.1" cy="111.8" r="1.8"/>
</g>
<g fill="#cccc00">
<circle cx="104.6" cy="127.2" r="1.8"/>
</g>
<g fill="#ff0000">
<circle cx="101.7" cy="90.8" r="1.8"/>
<circle cx="102.9" cy="122.7" r="1.8"/>
<circle cx="103.6" cy="83.6" r="1.8"/>
<circle cx="82.4" cy="56.7" r="1.8"/>
</g>
<g fill="#0000ff">
<circle cx="96.4" cy="109.1" r="1.8"/>
</g>
<g fill="#ff0000">
<circle cx="141.0" cy="102.5" r="1.8"/>
</g>
<g fill="#cccc00">
<circle cx="92.2" cy="109.9" r="1.8"/>
</g>
<g fill="#ff0000">
<circle cx="66.8" cy="81.0" r="1.8"/>
<circle cx="102.5" cy="100.3" r="1.8"/>
<circle cx="141.9" cy="138.2" r="1.8"/>
<circle cx="117.4" cy="92.1" r="1.8"/>
</g>
<g fill="#cccc00">
<circle cx="103.8" cy="107.0" r="1.8"/>
<circle cx="104.0" cy="96.3" r="1.8"/>
</g>
<g fill="#0000ff">
<circle cx="104.0" cy="107.7" r="1.8"/>
<circle cx="110.2" cy="111.2" r="1.8"/>
</g>
<g fill="#ff0000">
<circle cx="142.5" cy="151.9" r="1.8"/>
<circle cx="64.9" cy="48.0" r="1.8"/>
<circle cx="134.2" cy="166.7" r="1.8"/>
<circle cx="114.6" cy="160.4" r="1.8"/>
<circle cx="81.0" cy="99.8" r="1.8"/>
</g>
<g fill="#0000ff">
<circle cx="120.0" cy="95.0" r="1.8"/>
</g>
<g fill="#cccc00">
<circle cx="107.5" cy="118.0" r="1.8"/>
</g>
<g fill="#0000ff">
<circle cx="105.9" cy="107.0" r="1.8"/>
<circle cx="103.8" cy="92.3" r="1.8"/>
</g>
<g fill="#ff0000">
<circle cx="122.2" cy="117.8" r="1.8"/>
</g>
<g fill="#0000ff">
<circle cx="86.0" cy="90.8" r="1.8"/>
</g>
<g fill="#ff0000">
<circle cx="89.2" cy="107.6" r="1.8"/>
<circle cx="99.3" cy="95.2" r="1.8"/>
</g>
<g fill="#0000ff">
<circle cx="87.9" cy="97.3" r="1.8"/>
<circle cx="110.2" cy="112.8" r="1.8"/>
</g>
<g fill="#ff0000">
<circle cx="95.7" cy="75.6" r="1.8"/>
<circle cx="102.3" cy="144.5" r="1.8"/>
<circle cx="148.0" cy="127.4" r="1.8"/>
<circle cx="83.6" cy="79.6" r="1.8"/>
</g>
<g fill="#cccc00">
<circle cx="95.1" cy="104.5" r="1.8"/>
<circle cx="109.8" cy="127.1" r="1.8"/>
</g>
<g fill="#ff0000">
<circle cx="88.1" cy="76.9" r="1.8"/>
<circle cx="119.8" cy="120.6" r="1.8"/>
</g>
<g fill="#cccc00">
<circle cx="81.2" cy="101.6" r="1.8"/>
<circle cx="93.9" cy="107.9" r="1.8"/>
</g>
<g fill="#ff0000">
<circle cx="107.0" cy="67.3" r="1.8"/>
<circle cx="115.5" cy="136.2" r="1.8"/>
<circle cx="98.1" cy="99.7" r="1.8"/>
<circle cx="100.4" cy="65.8" r="1.8"/>
</g>
<g fill="#cccc00">
<circle cx="91.0" cy="136.4" r="1.8"/>
</g>
<g fill="#ff0000">
<circle cx="99.0" cy="130.5" r="1.8"/>
<circle cx="101.2" cy="112.2" r="1.8"/>
</g>
<g fill="#0000ff">
<circle cx="128.2" cy="136.5" r="1.8"/>
</g>
<g fill="#ff0000">
<circle cx="139.0" cy="160.2" r="1.8"/>
<circle cx="84.0" cy="71.1" r="1.8"/>
<circle cx="88.7" cy="88.9" r="1.8"/>
<circle cx="86.2" cy="78.2" r="1.8"/>
<circle cx="96.6" cy="75.1" r="1.8"/>
</g>
<g fill="#cccc00">
<circle cx="101.6" cy="90.6" r="1.8"/>
<circle cx="100.0" cy="106.5" r="1.8"/>
</g>
<g fill="#ff0000">
<circle cx="74.4" cy="42.8" r="1.8"/>
</g>
<g fill="#cccc00">
<circle cx="115.2" cy="107.6" r="1.8"/>
</g>
<g fill="#ff0000">
<circle cx="88.4" cy="67.8" r="1.8"/>
</g>
<g fill="#0000ff">
<circle cx="92.7" cy="85.8" r="1.8"/>
</g>
<g fill="#ff0000">
<circle cx="103.1" cy="97.7" r="1.8"/>
<circle cx="87.1" cy="74.1" r="1.8"/>
<circle cx="136.1" cy="138.5" r="1.8"/>
<circle cx="89.4" cy="83.5" r="1.8"/>
<circle cx="102.0" cy="111.8" r="1.8"/>
</g>
<g fill="#cccc00">
<circle cx="101.3" cy="101.9" r="1.8"/>
</g>
<g fill="#ff0000">
<circle cx="78.2" cy="45.6" r="1.8"/>
<circle cx="119.2" cy="97.9" r="1.8"/>
<circle cx="77.9" cy="49.6" r="1.8"/>
<circle cx="130.0" cy="141.8" r="1.8"/>
<circle cx="113.2" cy="91.6" r="1.8"/>
</g>
<g fill="#cccc00">
<circle cx="103.0" cy="120.3" r="1.8"/>
</g>
<g fill="#ff0000">
<circle cx="88.5" cy="139.6" r="1.8"/>
<circle cx="117.0" cy="157.5" r="1.8"/>
</g>
<g fill="#cccc00">
<circle cx="93.2" cy="136.1" r="1.8"/>
</g>
<g fill="#0000ff">
<circle cx="75.0" cy="103.0" r="1.8"/>
</g>
<g fill="#cccc00">
<circle cx="87.2" cy="139.6" r="1.8"/>
</g>
<g fill="#0000ff">
<circle cx="92.9" cy="102.1" r="1.8"/>
<circle cx="114.2" cy="113.6" r="1.8"/>
</g>
<g fill="#cccc00">
<circle cx="83.5" cy="120.5" r="1.8"/>
</g>
<g fill="#ff0000">
<circle cx="61.4" cy="80.4" r="1.8"/>
<circle cx="112.9" cy="89.4" r="1.8"/>
<circle cx="104.5" cy="95.6" r="1.8"/>
</g>
<g fill="#cccc00">
<circle cx="93.7" cy="129.4" r="1.8"/>
<circle cx="98.9" cy="111.5" r="1.8"/>
</g>
<g fill="#ff0000">
<circle cx="106.7" cy="61.5" r="1.8"/>
<circle cx="72.5" cy="85.5" r="1.8"/>
<circle cx="66.3" cy="59.4" r="1.8"/>
</g>
<g fill="#cccc00">
<circle cx="101.4" cy="123.3" r="1.8"/>
</g>
<g fill="#0000ff">
<circle cx="103.5" cy="107.3" r="1.8"/>
</g>
<g fill="#ff0000">
<circle cx="84.7" cy="82.9" r="1.8"/>
</g>
<g fill="#cccc00">
<circle cx="111.0" cy="131.9" r="1.8"/>
</g>
<g fill="#ff0000">
<circle cx="100.0" cy="72.2" r="1.8"/>
<circle cx="97.1" cy="84.8" r="1.8"/>
<circle cx="90.5" cy="89.6" r="1.8"/>
</g>
<g fill="#cccc00">
<circle cx="87.8" cy="129.6" r="1.8"/>
</g>
<g fill="#ff0000">
<circle cx="142.5" cy="149.3" r="1.8"/>
</g>
<g fill="#cccc00">
<circle cx="89.0" cy="112.7" r="1.8"/>
</g>
<g fill="#ff0000">
<circle cx="90.4" cy="97.3" r="1.8"/>
<circle cx="106.2" cy="95.2" r="1.8"/>
<circle cx="112.9" cy="128.7" r="1.8"/>
<circle cx="79.7" cy="48.3" r="1.8"/>
<circle cx="140.7" cy="132.8" r="1.8"/>
<circle cx="68.7" cy="56.1" r="1.8"/>
<circle cx="107.7" cy="111.9" r="1.8"/>
</g>
<g fill="#cccc00">
<circle cx="93.5" cy="93.7" r="1.8"/>
</g>
<g fill="#ff0000">
<circle cx="106.8" cy="117.6" r="1.8"/>
</g>
<g fill="#cccc00">
<circle cx="108.1" cy="106.7" r="1.8"/>
</g>
<g fill="#ff0000">
<circle cx="104.7" cy="109.7" r="1.8"/>
</g>
<g fill="#cccc00">
<circle cx="99.4" cy="110.9" r="1.8"/>
</g>
<g fill="#0000ff">
<circle cx="113.1" cy="102.8" r="1.8"/>
</g>
<g fill="#ff0000">
<circle cx="119.4" cy="143.0" r="1.8"/>
</g>
<g fill="#cccc00">
<circle cx="82.6" cy="118.7" r="1.8"/>
</g>
<g fill="#ff0000">
<circle cx="132.5" cy="125.5" r="1.8"/>
</g>
<g fill="#cccc00">
<circle cx="87.5" cy="111.4" r="1.8"/>
</g>
<g fill="#0000ff">
<circle cx="94.2" cy="88.7" r="1.8"/>
</g>
<g fill="#cccc00">
<circle cx="96.6" cy="130.8" r="1.8"/>
</g>
<g fill="#ff0000">
<circle cx="83.8" cy="71.9" r="1.8"/>
<circle cx="69.4" cy="70.7" r="1.8"/>
<circle cx="98.9" cy="119.5" r="1.8"/>
</g>
<g fill="#cccc00">
<circle cx="99.4" cy="98.5" r="1.8"/>
<circle cx="88.1" cy="136.0" r="1.8"/>
</g>
<g fill="#ff0000">
<circle cx="96.1" cy="129.2" r="1.8"/>
</g>
<g fill="#0000ff">
<circle cx="125.2" cy="129.1" r="1.8"/>
</g>
<g fill="#ff0000">
<circle cx="79.2" cy="76.4" r="1.8"/>
<circle cx="116.9" cy="76.6" r="1.8"/>
<circle cx="85.8" cy="142.5" r="1.8"/>
<circle cx="84.5" cy="71.1" r="1.8"/>
</g>
<g fill="#0000ff">
<circle cx="91.6" cy="109.2" r="1.8"/>
</g>
<g fill="#ff0000">
<circle cx="85.3" cy="68.3" r="1.8"/>
</g>
<g fill="#cccc00">
<circle cx="96.7" cy="118.7" r="1.8"/>
</g>
<g fill="#ff0000">
<circle cx="110.2" cy="52.6" r="1.8"/>
<circle cx="100.7" cy="76.7" r="1.8"/>
</g>
<g fill="#0000ff">
<circle cx="95.0" cy="101.2" r="1.8"/>
</g>
<g fill="#ff0000">
<circle cx="103.9" cy="60.7" r="1.8"/>
</g>
<g fill="#cccc00">
<circle cx="71.7" cy="114.7" r="1.8"/>
<circle cx="84.0" cy="99.1" r="1.8"/>
</g>
<g fill="#ff0000">
<circle cx="106.9" cy="141.3" r="1.8"/>
</g>
<g fill="#cccc00">
<circle cx="88.6" cy="123.4" r="1.8"/>
<circle cx="95.5" cy="104.4" r="1.8"/>
</g>
<g fill="#ff0000">
<circle cx="97.8" cy="90.4" r="1.8"/>
<circle cx="145.4" cy="135.4" r="1.8"/>
<circle cx="69.4" cy="54.8" r="1.8"/>
</g>
<g fill="#0000ff">
<circle cx="90.2" cy="84.9" r="1.8"/>
</g>
<g fill="#ff0000">
<circle cx="106.0" cy="104.1" r="1.8"/>
<circle cx="89.3" cy="83.1" r="1.8"/>
<circle cx="78.9" cy="85.3" r="1.8"/>
</g>
<g fill="#cccc00">
<circle cx="83.0" cy="91.7" r="1.8"/>
</g>
<g fill="#ff0000">
<circle cx="86.7" cy="47.4" r="1.8"/>
</g>
<g fill="#cccc00">
<circle cx="76.8" cy="137.2" r="1.8"/>
</g>
<g fill="#ff0000">
<circle cx="78.5" cy="51.1" r="1.8"/>
<circle cx="74.5" cy="48.2" r="1.8"/>
<circle cx="85.3" cy="88.5" r="1.8"/>
</g>
<g fill="#cccc00">
<circle cx="98.0" cy="110.9" r="1.8"/>
</g>
<g fill="#ff0000">
<circle cx="91.4" cy="123.8" r="1.8"/>
</g>
<g fill="#cccc00">
<circle cx="92.9" cy="110.2" r="1.8"/>
</g>
<g fill="#ff0000">
<circle cx="83.6" cy="66.9" r="1.8"/>
<circle cx="93.3" cy="122.3" r="1.8"/>
<circle cx="124.3" cy="129.3" r="1.8"/>
</g>
<g fill="#cccc00">
<circle cx="89.6" cy="107.6" r="1.8"/>
</g>
<g fill="#ff0000">
<circle cx="137.4" cy="147.9" r="1.8"/>
<circle cx="110.0" cy="146.5" r="1.8"/>
<circle cx="118.4" cy="137.6" r="1.8"/>
<circle cx="96.4" cy="84.3" r="1.8"/>
</g>
<g fill="#0000ff">
<circle cx="114.1" cy="111.4" r="1.8"/>
</g>
<g fill="#cccc00">
<circle cx="93.0" cy="103.7" r="1.8"/>
<circle cx="77.8" cy="99.4" r="1.8"/>
</g>
<g fill="#ff0000">
<circle cx="119.4" cy="128.7" r="1.8"/>
<circle cx="147.0" cy="154.8" r="1.8"/>
</g>
<g fill="#cccc00">
<circle cx="92.0" cy="133.9" r="1.8"/>
<circle cx="78.2" cy="104.0" r="1.8"/>
<circle cx="85.9" cy="114.4" r="1.8"/>
</g>
<g fill="#00ff00">
<circle cx="371.1" cy="128.7" r="1.8"/>
<circle cx="378.3" cy="130.3" r="1.8"/>
<circle cx="396.8" cy="105.7" r="1.8"/>
<circle cx="349.0" cy="105.7" r="1.8"/>
<circle cx="372.6" cy="112.1" r="1.8"/>
<circle cx="383.0" cy="112.1" r="1.8"/>
<circle cx="354.6" cy="70.6" r="1.8"/>
<circle cx="406.4" cy="115.6" r="1.8"/>
<circle cx="345.5" cy="99.8" r="1.8"/>
<circle cx="377.1" cy="119.6" r="1.8"/>
<circle cx="354.2" cy="111.0" r="1.8"/>
<circle cx="361.9" cy="102.4" r="1.8"/>
<circle cx="370.2" cy="89.9" r="1.8"/>
<circle cx="361.1" cy="121.0" r="1.8"/>
<circle cx="403.9" cy="112.6" r="1.8"/>
<circle cx="381.1" cy="113.1" r="1.8"/>
<circle cx="372.6" cy="107.5" r="1.8"/>
<circle cx="372.2" cy="121.2" r="1.8"/>
<circle cx="376.8" cy="126.3" r="1.8"/>
<circle cx="365.1" cy="139.6" r="1.8"/>
<circle cx="373.4" cy="87.9" r="1.8"/>
<circle cx="360.0" cy="130.4" r="1.8"/>
<circle cx="365.2" cy="91.1" r="1.8"/>
<circle cx="396.9" cy="109.0" r="1.8"/>
<circle cx="359.6" cy="107.4" r="1.8"/>
<circle cx="391.9" cy="105.6" r="1.8"/>
<circle cx="384.9" cy="118.6" r="1.8"/>
<circle cx="390.1" cy="121.4" r="1.8"/>
<circle cx="376.2" cy="109.8" r="1.8"/>
<circle cx="369.4" cy="90.4" r="1.8"/>
<circle cx="414.8" cy="133.0" r="1.8"/>
<circle cx="391.7" cy="128.5" r="1.8"/>
<circle cx="396.9" cy="129.8" r="1.8"/>
<circle cx="372.8" cy="85.6" r="1.8"/>
<circle cx="383.5" cy="123.7" r="1.8"/>
<circle cx="402.0" cy="120.6" r="1.8"/>
<circle cx="401.7" cy="113.7" r="1.8"/>
<circle cx="343.1" cy="91.9" r="1.8"/>
<circle cx="351.9" cy="95.7" r="1.8"/>
<circle cx="409.3" cy="129.8" r="1.8"/>
<circle cx="394.7" cy="131.2" r="1.8"/>
<circle cx="340.0" cy="108.3" r="1.8"/>
<circle cx="367.1" cy="113.1" r="1.8"/>
<circle cx="335.5" cy="95.3" r="1.8"/>
<circle cx="398.5" cy="135.9" r="1.8"/>
<circle cx="388.6" cy="111.8" r="1.8"/>
<circle cx="354.2" cy="87.3" r="1.8"/>
<circle cx="373.6" cy="118.5" r="1.8"/>
<circle cx="367.4" cy="119.8" r="1.8"/>
<circle cx="362.5" cy="111.6" r="1.8"/>
<circle cx="367.1" cy="99.3" r="1.8"/>
<circle cx="365.4" cy="120.1" r="1.8"/>
<circle cx="405.2" cy="135.0" r="1.8"/>
<circle cx="387.5" cy="128.9" r="1.8"/>
<circle cx="354.7" cy="108.9" r="1.8"/>
<circle cx="366.1" cy="91.6" r="1.8"/>
<circle cx="402.4" cy="134.1" r="1.8"/>
<circle cx="375.6" cy="128.8" r="1.8"/>
<circle cx="397.1" cy="119.8" r="1.8"/>
<circle cx="440.6" cy="124.6" r="1.8"/>
<circle cx="403.5" cy="121.5" r="1.8"/>
<circle cx="355.9" cy="130.7" r="1.8"/>
<circle cx="409.0" cy="147.4" r="1.8"/>
<circle cx="374.4" cy="131.3" r="1.8"/>
<circle cx="382.0" cy="134.2" r="1.8"/>
<circle cx="354.5" cy="106.6" r="1.8"/>
<circle cx="352.5" cy="107.5" r="1.8"/>
<circle cx="388.7" cy="71.0" r="1.8"/>
<circle cx="388.5" cy="114.7" r="1.8"/>
<circle cx="404.6" cy="125.3" r="1.8"/>
<circle cx="395.4" cy="131.2" r="1.8"/>
<circle cx="393.5" cy="126.1" r="1.8"/>
<circle cx="359.3" cy="114.9" r="1.8"/>
<circle cx="405.8" cy="136.6" r="1.8"/>
<circle cx="377.4" cy="117.6" r="1.8"/>
<circle cx="361.1" cy="100.6" r="1.8"/>
<circle cx="368.9" cy="96.8" r="1.8"/>
<circle cx="371.0" cy="110.4" r="1.8"/>
<circle cx="355.0" cy="86.6" r="1.8"/>
<circle cx="350.6" cy="109.7" r="1.8"/>
<circle cx="392.8" cy="117.7" r="1.8"/>
<circle cx="380.7" cy="119.3" r="1.8"/>
<circle cx="405.0" cy="111.1" r="1.8"/>
<circle cx="404.7" cy="123.6" r="1.8"/>
<circle cx="369.9" cy="120.0" r="1.8"/>
<circle cx="390.4" cy="114.7" r="1.8"/>
<circle cx="369.2" cy="101.2" r="1.8"/>
<circle cx="359.1" cy="133.3" r="1.8"/>
<circle cx="361.9" cy="90.3" r="1.8"/>
<circle cx="398.7" cy="122.8" r="1.8"/>
<circle cx="366.7" cy="93.8" r="1.8"/>
<circle cx="362.6" cy="99.3" r="1.8"/>
<circle cx="377.5" cy="91.3" r="1.8"/>
<circle cx="344.6" cy="93.9" r="1.8"/>
<circle cx="352.4" cy="104.6" r="1.8"/>
<circle cx="407.3" cy="145.2" r="1.8"/>
<circle cx="333.1" cy="102.8" r="1.8"/>
<circle cx="389.9" cy="115.8" r="1.8"/>
<circle cx="364.0" cy="94.8" r="1.8"/>
<circle cx="341.4" cy="109.0" r="1.8"/>
<circle cx="386.2" cy="123.3" r="1.8"/>
<circle cx="360.0" cy="112.7" r="1.8"/>
<circle cx="356.6" cy="95.7" r="1.8"/>
<circle cx="374.1" cy="129.0" r="1.8"/>
<circle cx="404.0" cy="139.6" r="1.8"/>
<circle cx="347.4" cy="93.5" r="1.8"/>
<circle cx="398.5" cy="142.5" r="1.8"/>
<circle cx="375.3" cy="101.7" r="1.8"/>
<circle cx="378.6" cy="104.8" r="1.8"/>
<circle cx="363.3" cy="107.9" r="1.8"/>
<circle cx="405.3" cy="145.1" r="1.8"/>
<circle cx="395.9" cy="105.4" r="1.8"/>
<circle cx="373.4" cy="116.7" r="1.8"/>
<circle cx="372.6" cy="116.4" r="1.8"/>
<circle cx="369.2" cy="105.2" r="1.8"/>
<circle cx="367.2" cy="98.6" r="1.8"/>
<circle cx="437.3" cy="135.4" r="1.8"/>
<circle cx="394.1" cy="117.2" r="1.8"/>
<circle cx="372.7" cy="114.2" r="1.8"/>
<circle cx="357.8" cy="90.3" r="1.8"/>
<circle cx="338.4" cy="86.1" r="1.8"/>
<circle cx="353.6" cy="86.2" r="1.8"/>
<circle cx="364.9" cy="108.1" r="1.8"/>
<circle cx="386.6" cy="125.3" r="1.8"/>
<circle cx="355.0" cy="89.6" r="1.8"/>
<circle cx="360.6" cy="87.7" r="1.8"/>
<circle cx="402.9" cy="118.9" r="1.8"/>
<circle cx="338.5" cy="103.2" r="1.8"/>
<circle cx="340.9" cy="101.7" r="1.8"/>
<circle cx="353.6" cy="108.1" r="1.8"/>
<circle cx="355.6" cy="111.3" r="1.8"/>
<circle cx="382.2" cy="123.8" r="1.8"/>
<circle cx="351.2" cy="77.7" r="1.8"/>
<circle cx="359.0" cy="110.4" r="1.8"/>
<circle cx="348.0" cy="106.9" r="1.8"/>
<circle cx="348.0" cy="84.2" r="1.8"/>
<circle cx="379.8" cy="98.7" r="1.8"/>
<circle cx="364.6" cy="91.2" r="1.8"/>
<circle cx="363.5" cy="116.1" r="1.8"/>
<circle cx="345.7" cy="81.1" r="1.8"/>
<circle cx="398.3" cy="115.5" r="1.8"/>
<circle cx="344.3" cy="74.4" r="1.8"/>
<circle cx="370.7" cy="127.7" r="1.8"/>
<circle cx="331.0" cy="92.6" r="1.8"/>
<circle cx="364.7" cy="131.8" r="1.8"/>
<circle cx="372.1" cy="104.8" r="1.8"/>
<circle cx="371.7" cy="111.0" r="1.8"/>
<circle cx="378.2" cy="111.5" r="1.8"/>
<circle cx="398.0" cy="151.6" r="1.8"/>
<circle cx="372.7" cy="83.0" r="1.8"/>
<circle cx="366.5" cy="73.8" r="1.8"/>
<circle cx="332.3" cy="84.8" r="1.8"/>
<circle cx="387.6" cy="128.0" r="1.8"/>
<circle cx="371.3" cy="114.8" r="1.8"/>
<circle cx="401.0" cy="126.4" r="1.8"/>
<circle cx="351.1" cy="101.1" r="1.8"/>
<circle cx="380.0" cy="100.7" r="1.8"/>
<circle cx="357.8" cy="124.0" r="1.8"/>
<circle cx="384.3" cy="130.7" r="1.8"/>
<circle cx="391.1" cy="140.7" r="1.8"/>
<circle cx="363.5" cy="94.4" r="1.8"/>
<circle cx="400.6" cy="123.7" r="1.8"/>
<circle cx="352.9" cy="90.5" r="1.8"/>
<circle cx="373.6" cy="102.1" r="1.8"/>
<circle cx="377.7" cy="114.5" r="1.8"/>
<circle cx="358.0" cy="116.4" r="1.8"/>
<circle cx="371.5" cy="112.6" r="1.8"/>
<circle cx="367.3" cy="104.6" r="1.8"/>
<circle cx="383.9" cy="116.9" r="1.8"/>
<circle cx="357.7" cy="100.5" r="1.8"/>
<circle cx="381.6" cy="103.0" r="1.8"/>
<circle cx="378.7" cy="109.8" r="1.8"/>
<circle cx="397.1" cy="112.5" r="1.8"/>
<circle cx="346.6" cy="100.8" r="1.8"/>
<circle cx="350.1" cy="117.9" r="1.8"/>
<circle cx="372.6" cy="93.0" r="1.8"/>
<circle cx="397.4" cy="136.8" r="1.8"/>
<circle cx="358.7" cy="103.3" r="1.8"/>
<circle cx="370.3" cy="113.1" r="1.8"/>
<circle cx="387.9" cy="111.1" r="1.8"/>
<circle cx="373.4" cy="107.3" r="1.8"/>
<circle cx="373.3" cy="141.7" r="1.8"/>
<circle cx="374.1" cy="119.0" r="1.8"/>
<circle cx="374.9" cy="131.0" r="1.8"/>
<circle cx="368.0" cy="109.3" r="1.8"/>
<circle cx="361.5" cy="117.2" r="1.8"/>
<circle cx="398.7" cy="149.9" r="1.8"/>
<circle cx="389.2" cy="98.4" r="1.8"/>
<circle cx="385.8" cy="99.8" r="1.8"/>
<circle cx="383.7" cy="130.1" r="1.8"/>
<circle cx="394.8" cy="123.6" r="1.8"/>
<circle cx="356.8" cy="109.5" r="1.8"/>
<circle cx="386.8" cy="117.4" r="1.8"/>
<circle cx="387.6" cy="106.7" r="1.8"/>
<circle cx="352.7" cy="107.5" r="1.8"/>
<circle cx="376.0" cy="107.6" r="1.8"/>
<circle cx="367.6" cy="114.3" r="1.8"/>
<circle cx="391.0" cy="123.9" r="1.8"/>
<circle cx="362.8" cy="98.4" r="1.8"/>
<circle cx="360.2" cy="88.9" r="1.8"/>
<circle cx="344.0" cy="105.0" r="1.8"/>
<circle cx="373.4" cy="115.9" r="1.8"/>
<circle cx="407.0" cy="132.0" r="1.8"/>
<circle cx="387.9" cy="130.1" r="1.8"/>
<circle cx="355.3" cy="114.7" r="1.8"/>
<circle cx="395.7" cy="107.2" r="1.8"/>
<circle cx="370.2" cy="116.2" r="1.8"/>
<circle cx="360.1" cy="113.3" r="1.8"/>
<circle cx="373.5" cy="87.7" r="1.8"/>
<circle cx="409.3" cy="122.7" r="1.8"/>
<circle cx="377.6" cy="122.8" r="1.8"/>
<circle cx="361.8" cy="107.9" r="1.8"/>
<circle cx="357.6" cy="115.3" r="1.8"/>
<circle cx="380.8" cy="126.4" r="1.8"/>
<circle cx="397.3" cy="122.4" r="1.8"/>
<circle cx="404.1" cy="132.2" r="1.8"/>
<circle cx="398.0" cy="112.2" r="1.8"/>
<circle cx="356.3" cy="99.6" r="1.8"/>
<circle cx="380.3" cy="104.8" r="1.8"/>
<circle cx="347.0" cy="94.6" r="1.8"/>
<circle cx="369.7" cy="127.7" r="1.8"/>
<circle cx="384.5" cy="133.8" r="1.8"/>
<circle cx="369.4" cy="125.4" r="1.8"/>
<circle cx="357.9" cy="93.5" r="1.8"/>
<circle cx="355.7" cy="97.3" r="1.8"/>
<circle cx="374.0" cy="119.3" r="1.8"/>
<circle cx="353.4" cy="123.5" r="1.8"/>
<circle cx="359.6" cy="110.0" r="1.8"/>
<circle cx="385.8" cy="86.1" r="1.8"/>
<circle cx="405.4" cy="121.2" r="1.8"/>
<circle cx="376.2" cy="122.7" r="1.8"/>
<circle cx="399.4" cy="146.0" r="1.8"/>
<circle cx="357.7" cy="117.9" r="1.8"/>
<circle cx="374.9" cy="111.2" r="1.8"/>
<circle cx="361.2" cy="85.5" r="1.8"/>
<circle cx="364.0" cy="122.5" r="1.8"/>
<circle cx="375.4" cy="101.2" r="1.8"/>
<circle cx="403.1" cy="119.2" r="1.8"/>
<circle cx="387.0" cy="99.5" r="1.8"/>
<circle cx="374.7" cy="98.0" r="1.8"/>
<circle cx="332.2" cy="88.4" r="1.8"/>
<circle cx="393.2" cy="123.3" r="1.8"/>
<circle cx="395.4" cy="130.7" r="1.8"/>
<circle cx="382.3" cy="123.8" r="1.8"/>
<circle cx="390.5" cy="137.3" r="1.8"/>
<circle cx="356.3" cy="125.9" r="1.8"/>
<circle cx="394.5" cy="110.8" r="1.8"/>
<circle cx="370.2" cy="113.6" r="1.8"/>
<circle cx="369.9" cy="81.8" r="1.8"/>
<circle cx="363.3" cy="83.3" r="1.8"/>
<circle cx="385.3" cy="107.7" r="1.8"/>
<circle cx="376.9" cy="113.7" r="1.8"/>
<circle cx="372.6" cy="106.3" r="1.8"/>
<circle cx="370.7" cy="119.2" r="1.8"/>
<circle cx="401.4" cy="122.8" r="1.8"/>
<circle cx="359.7" cy="109.4" r="1.8"/>
<circle cx="366.9" cy="76.0" r="1.8"/>
<circle cx="390.7" cy="112.9" r="1.8"/>
<circle cx="352.1" cy="74.8" r="1.8"/>
<circle cx="384.6" cy="124.6" r="1.8"/>
<circle cx="365.4" cy="119.7" r="1.8"/>
<circle cx="387.5" cy="122.4" r="1.8"/>
<circle cx="375.7" cy="102.7" r="1.8"/>
<circle cx="364.8" cy="134.0" r="1.8"/>
<circle cx="344.3" cy="78.1" r="1.8"/>
<circle cx="427.5" cy="126.5" r="1.8"/>
<circle cx="353.2" cy="76.8" r="1.8"/>
<circle cx="352.7" cy="104.7" r="1.8"/>
<circle cx="387.4" cy="116.7" r="1.8"/>
<circle cx="342.3" cy="95.9" r="1.8"/>
<circle cx="358.0" cy="81.1" r="1.8"/>
<circle cx="376.2" cy="102.7" r="1.8"/>
<circle cx="368.9" cy="107.6" r="1.8"/>
<circle cx="409.9" cy="125.5" r="1.8"/>
<circle cx="420.1" cy="126.4" r="1.8"/>
<circle cx="345.9" cy="96.2" r="1.8"/>
<circle cx="361.3" cy="91.4" r="1.8"/>
<circle cx="390.3" cy="138.1" r="1.8"/>
<circle cx="437.4" cy="135.7" r="1.8"/>
<circle cx="382.2" cy="121.1" r="1.8"/>
<circle cx="382.2" cy="110.3" r="1.8"/>
<circle cx="369.2" cy="94.5" r="1.8"/>
<circle cx="388.5" cy="71.1" r="1.8"/>
<circle cx="358.3" cy="90.0" r="1.8"/>
<circle cx="407.8" cy="139.1" r="1.8"/>
<circle cx="337.6" cy="85.7" r="1.8"/>
<circle cx="356.6" cy="78.1" r="1.8"/>
<circle cx="407.9" cy="139.3" r="1.8"/>
<circle cx="354.9" cy="135.0" r="1.8"/>
<circle cx="387.2" cy="106.4" r="1.8"/>
<circle cx="383.9" cy="120.2" r="1.8"/>
<circle cx="358.6" cy="122.6" r="1.8"/>
<circle cx="365.2" cy="82.3" r="1.8"/>
<circle cx="402.9" cy="127.6" r="1.8"/>
<circle cx="367.9" cy="88.9" r="1.8"/>
<circle cx="393.5" cy="141.4" r="1.8"/>
<circle cx="383.5" cy="101.7" r="1.8"/>
<circle cx="407.0" cy="129.3" r="1.8"/>
<circle cx="407.9" cy="134.6" r="1.8"/>
<circle cx="373.3" cy="118.1" r="1.8"/>
<circle cx="404.6" cy="129.6" r="1.8"/>
<circle cx="352.0" cy="91.4" r="1.8"/>
<circle cx="335.7" cy="87.9" r="1.8"/>
<circle cx="326.4" cy="94.8" r="1.8"/>
<circle cx="402.8" cy="109.6" r="1.8"/>
<circle cx="357.9" cy="73.0" r="1.8"/>
<circle cx="359.6" cy="101.1" r="1.8"/>
<circle cx="345.5" cy="101.6" r="1.8"/>
<circle cx="354.7" cy="86.0" r="1.8"/>
<circle cx="396.9" cy="115.7" r="1.8"/>
<circle cx="360.9" cy="116.8" r="1.8"/>
<circle cx="372.0" cy="133.4" r="1.8"/>
<circle cx="363.5" cy="88.5" r="1.8"/>
<circle cx="369.2" cy="107.7" r="1.8"/>
<circle cx="436.0" cy="128.0" r="1.8"/>
<circle cx="360.3" cy="85.3" r="1.8"/>
<circle cx="376.9" cy="123.6" r="1.8"/>
<circle cx="367.4" cy="119.2" r="1.8"/>
<circle cx="390.0" cy="116.0" r="1.8"/>
<circle cx="363.7" cy="113.3" r="1.8"/>
<circle cx="400.7" cy="132.2" r="1.8"/>
<circle cx="400.9" cy="135.2" r="1.8"/>
<circle cx="365.4" cy="114.7" r="1.8"/>
<circle cx="373.7" cy="89.4" r="1.8"/>
<circle cx="355.5" cy="84.6" r="1.8"/>
<circle cx="348.1" cy="95.7" r="1.8"/>
<circle cx="391.7" cy="101.2" r="1.8"/>
<circle cx="399.9" cy="97.5" r="1.8"/>
<circle cx="383.9" cy="84.8" r="1.8"/>
<circle cx="397.3" cy="124.4" r="1.8"/>
<circle cx="376.7" cy="85.6" r="1.8"/>
<circle cx="372.2" cy="109.1" r="1.8"/>
<circle cx="378.4" cy="127.5" r="1.8"/>
<circle cx="370.9" cy="88.4" r="1.8"/>
<circle cx="397.0" cy="116.8" r="1.8"/>
<circle cx="403.3" cy="123.4" r="1.8"/>
<circle cx="381.4" cy="103.4" r="1.8"/>
<circle cx="387.0" cy="89.5" r="1.8"/>
<circle cx="405.6" cy="124.3" r="1.8"/>
<circle cx="382.9" cy="117.6" r="1.8"/>
<circle cx="398.2" cy="114.9" r="1.8"/>
<circle cx="379.9" cy="131.6" r="1.8"/>
<circle cx="410.1" cy="137.9" r="1.8"/>
<circle cx="412.4" cy="143.7" r="1.8"/>
<circle cx="349.1" cy="95.2" r="1.8"/>
<circle cx="373.3" cy="84.7" r="1.8"/>
<circle cx="394.2" cy="110.6" r="1.8"/>
<circle cx="408.0" cy="129.1" r="1.8"/>
<circle cx="351.7" cy="81.3" r="1.8"/>
<circle cx="364.3" cy="93.3" r="1.8"/>
<circle cx="382.6" cy="116.0" r="1.8"/>
<circle cx="401.3" cy="122.8" r="1.8"/>
<circle cx="361.7" cy="109.4" r="1.8"/>
<circle cx="361.5" cy="105.1" r="1.8"/>
<circle cx="370.4" cy="110.1" r="1.8"/>
<circle cx="390.6" cy="117.4" r="1.8"/>
<circle cx="345.8" cy="109.8" r="1.8"/>
<circle cx="384.6" cy="101.7" r="1.8"/>
<circle cx="342.5" cy="75.1" r="1.8"/>
<circle cx="357.4" cy="116.0" r="1.8"/>
<circle cx="349.0" cy="89.7" r="1.8"/>
<circle cx="357.4" cy="128.9" r="1.8"/>
<circle cx="403.9" cy="123.3" r="1.8"/>
<circle cx="396.4" cy="119.7" r="1.8"/>
<circle cx="359.8" cy="77.3" r="1.8"/>
<circle cx="373.2" cy="128.4" r="1.8"/>
<circle cx="390.8" cy="125.4" r="1.8"/>
<circle cx="369.6" cy="106.8" r="1.8"/>
<circle cx="374.6" cy="115.2" r="1.8"/>
<circle cx="377.3" cy="102.0" r="1.8"/>
<circle cx="331.3" cy="81.7" r="1.8"/>
<circle cx="372.1" cy="119.0" r="1.8"/>
<circle cx="384.1" cy="131.2" r="1.8"/>
<circle cx="388.0" cy="104.0" r="1.8"/>
<circle cx="377.1" cy="123.8" r="1.8"/>
<circle cx="364.2" cy="87.5" r="1.8"/>
<circle cx="371.7" cy="127.7" r="1.8"/>
<circle cx="374.1" cy="95.0" r="1.8"/>
<circle cx="435.8" cy="129.9" r="1.8"/>
<circle cx="362.7" cy="92.6" r="1.8"/>
<circle cx="355.2" cy="53.9" r="1.8"/>
<circle cx="344.3" cy="71.3" r="1.8"/>
<circle cx="368.2" cy="74.5" r="1.8"/>
<circle cx="340.1" cy="90.0" r="1.8"/>
<circle cx="377.0" cy="121.2" r="1.8"/>
<circle cx="360.7" cy="86.2" r="1.8"/>
<circle cx="398.0" cy="119.8" r="1.8"/>
<circle cx="394.5" cy="124.4" r="1.8"/>
<circle cx="360.2" cy="114.8" r="1.8"/>
<circle cx="385.8" cy="97.6" r="1.8"/>
<circle cx="353.1" cy="84.3" r="1.8"/>
<circle cx="367.4" cy="122.6" r="1.8"/>
<circle cx="335.5" cy="94.0" r="1.8"/>
<circle cx="364.1" cy="103.5" r="1.8"/>
<circle cx="391.0" cy="125.0" r="1.8"/>
<circle cx="366.2" cy="96.1" r="1.8"/>
<circle cx="359.7" cy="91.7" r="1.8"/>
<circle cx="361.0" cy="105.5" r="1.8"/>
<circle cx="351.9" cy="104.1" r="1.8"/>
<circle cx="353.3" cy="96.3" r="1.8"/>
<circle cx="411.1" cy="124.2" r="1.8"/>
<circle cx="375.0" cy="122.7" r="1.8"/>
<circle cx="399.0" cy="99.4" r="1.8"/>
<circle cx="387.8" cy="122.5" r="1.8"/>
<circle cx="384.3" cy="89.4" r="1.8"/>
<circle cx="400.1" cy="119.5" r="1.8"/>
<circle cx="417.5" cy="138.1" r="1.8"/>
<circle cx="376.0" cy="126.1" r="1.8"/>
<circle cx="360.4" cy="113.8" r="1.8"/>
<circle cx="372.1" cy="127.8" r="1.8"/>
<circle cx="370.2" cy="86.2" r="1.8"/>
<circle cx="396.2" cy="120.0" r="1.8"/>
<circle cx="367.8" cy="118.4" r="1.8"/>
<circle cx="417.7" cy="133.9" r="1.8"/>
<circle cx="369.8" cy="121.5" r="1.8"/>
<circle cx="373.1" cy="122.4" r="1.8"/>
<circle cx="357.1" cy="87.0" r="1.8"/>
<circle cx="382.2" cy="110.7" r="1.8"/>
<circle cx="347.3" cy="113.8" r="1.8"/>
<circle cx="343.7" cy="95.2" r="1.8"/>
<circle cx="345.3" cy="82.8" r="1.8"/>
<circle cx="389.7" cy="116.6" r="1.8"/>
<circle cx="396.7" cy="111.6" r="1.8"/>
<circle cx="351.2" cy="104.0" r="1.8"/>
<circle cx="372.3" cy="108.1" r="1.8"/>
<circle cx="391.4" cy="117.9" r="1.8"/>
<circle cx="410.3" cy="129.4" r="1.8"/>
<circle cx="353.8" cy="112.6" r="1.8"/>
<circle cx="399.2" cy="135.0" r="1.8"/>
<circle cx="412.1" cy="131.0" r="1.8"/>
<circle cx="393.0" cy="113.8" r="1.8"/>
<circle cx="371.4" cy="105.9" r="1.8"/>
<circle cx="384.8" cy="81.3" r="1.8"/>
<circle cx="385.0" cy="121.9" r="1.8"/>
<circle cx="414.6" cy="123.1" r="1.8"/>
<circle cx="336.1" cy="99.6" r="1.8"/>
<circle cx="339.6" cy="83.1" r="1.8"/>
<circle cx="392.1" cy="110.7" r="1.8"/>
<circle cx="394.7" cy="135.5" r="1.8"/>
<circle cx="359.0" cy="107.2" r="1.8"/>
<circle cx="387.4" cy="121.5" r="1.8"/>
<circle cx="387.2" cy="114.0" r="1.8"/>
<circle cx="365.2" cy="123.9" r="1.8"/>
<circle cx="396.6" cy="110.8" r="1.8"/>
<circle cx="352.7" cy="94.0" r="1.8"/>
<circle cx="357.1" cy="113.4" r="1.8"/>
<circle cx="411.0" cy="139.2" r="1.8"/>
<circle cx="373.6" cy="142.0" r="1.8"/>
<circle cx="359.4" cy="96.7" r="1.8"/>
<circle cx="388.7" cy="134.3" r="1.8"/>
<circle cx="394.9" cy="144.7" r="1.8"/>
<circle cx="380.9" cy="108.7" r="1.8"/>
<circle cx="341.9" cy="75.3" r="1.8"/>
<circle cx="342.3" cy="81.6" r="1.8"/>
<circle cx="376.8" cy="95.6" r="1.8"/>
<circle cx="402.3" cy="107.5" r="1.8"/>
<circle cx="361.5" cy="83.1" r="1.8"/>
<circle cx="367.3" cy="88.8" r="1.8"/>
<circle cx="362.6" cy="94.0" r="1.8"/>
<circle cx="383.0" cy="116.3" r="1.8"/>
<circle cx="358.2" cy="90.9" r="1.8"/>
<circle cx="348.1" cy="83.0" r="1.8"/>
<circle cx="343.3" cy="79.6" r="1.8"/>
<circle cx="382.7" cy="111.2" r="1.8"/>
<circle cx="375.6" cy="95.8" r="1.8"/>
<circle cx="367.7" cy="124.8" r="1.8"/>
<circle cx="356.3" cy="110.6" r="1.8"/>
<circle cx="412.0" cy="117.6" r="1.8"/>
<circle cx="380.1" cy="108.9" r="1.8"/>
<circle cx="375.0" cy="78.7" r="1.8"/>
<circle cx="403.0" cy="140.2" r="1.8"/>
<circle cx="380.1" cy="118.3" r="1.8"/>
<circle cx="398.5" cy="122.3" r="1.8"/>
<circle cx="348.1" cy="80.2" r="1.8"/>
<circle cx="374.0" cy="101.8" r="1.8"/>
<circle cx="379.1" cy="137.2" r="1.8"/>
<circle cx="347.8" cy="106.2" r="1.8"/>
<circle cx="399.3" cy="110.7" r="1.8"/>
<circle cx="364.3" cy="115.7" r="1.8"/>
<circle cx="335.3" cy="88.7" r="1.8"/>
<circle cx="412.9" cy="145.0" r="1.8"/>
<circle cx="373.4" cy="130.7" r="1.8"/>
<circle cx="385.0" cy="104.2" r="1.8"/>
<circle cx="356.4" cy="94.1" r="1.8"/>
<circle cx="367.7" cy="116.2" r="1.8"/>
<circle cx="372.0" cy="70.5" r="1.8"/>
<circle cx="360.6" cy="107.5" r="1.8"/>
<circle cx="389.8" cy="124.8" r="1.8"/>
<circle cx="398.8" cy="116.3" r="1.8"/>
<circle cx="364.5" cy="130.9" r="1.8"/>
<circle cx="372.1" cy="115.2" r="1.8"/>
<circle cx="375.8" cy="119.9" r="1.8"/>
<circle cx="375.6" cy="77.1" r="1.8"/>
<circle cx="361.2" cy="93.1" r="1.8"/>
<circle cx="390.7" cy="103.2" r="1.8"/>
<circle cx="408.2" cy="124.4" r="1.8"/>
<circle cx="400.3" cy="126.2" r="1.8"/>
<circle cx="389.2" cy="103.0" r="1.8"/>
<circle cx="365.3" cy="95.7" r="1.8"/>
<circle cx="348.2" cy="94.9" r="1.8"/>
<circle cx="364.5" cy="72.2" r="1.8"/>
<circle cx="371.5" cy="114.6" r="1.8"/>
<circle cx="372.6" cy="127.1" r="1.8"/>
<circle cx="358.6" cy="98.7" r="1.8"/>
<circle cx="392.6" cy="132.5" r="1.8"/>
<circle cx="413.6" cy="117.5" r="1.8"/>
<circle cx="370.3" cy="102.4" r="1.8"/>
<circle cx="359.4" cy="125.7" r="1.8"/>
<circle cx="416.2" cy="120.1" r="1.8"/>
<circle cx="378.4" cy="134.8" r="1.8"/>
<circle cx="382.0" cy="102.4" r="1.8"/>
<circle cx="398.7" cy="136.6" r="1.8"/>
<circle cx="372.5" cy="109.5" r="1.8"/>
<circle cx="335.2" cy="99.9" r="1.8"/>
<circle cx="343.7" cy="92.3" r="1.8"/>
<circle cx="359.4" cy="95.7" r="1.8"/>
<circle cx="382.4" cy="138.3" r="1.8"/>
<circle cx="414.2" cy="122.3" r="1.8"/>
<circle cx="390.2" cy="126.1" r="1.8"/>
<circle cx="393.4" cy="110.7" r="1.8"/>
<circle cx="365.7" cy="119.2" r="1.8"/>
<circle cx="372.5" cy="123.7" r="1.8"/>
<circle cx="367.5" cy="85.6" r="1.8"/>
<circle cx="405.7" cy="127.6" r="1.8"/>
<circle cx="343.5" cy="99.0" r="1.8"/>
<circle cx="353.7" cy="106.8" r="1.8"/>
<circle cx="383.0" cy="114.1" r="1.8"/>
<circle cx="354.9" cy="54.5" r="1.8"/>
<circle cx="392.2" cy="118.2" r="1.8"/>
<circle cx="406.2" cy="118.0" r="1.8"/>
<circle cx="404.4" cy="121.0" r="1.8"/>
<circle cx="333.5" cy="89.0" r="1.8"/>
<circle cx="387.3" cy="111.2" r="1.8"/>
</g>
<g fill="#0000ff">
<circle cx="359.6" cy="104.5" r="1.8"/>
<circle cx="329.2" cy="100.8" r="1.8"/>
</g>
<g fill="#ff0000">
<circle cx="441.7" cy="139.3" r="1.8"/>
<circle cx="342.5" cy="54.5" r="1.8"/>
<circle cx="424.4" cy="123.3" r="1.8"/>
<circle cx="401.9" cy="132.4" r="1.8"/>
<circle cx="355.9" cy="127.9" r="1.8"/>
</g>
<g fill="#0000ff">
<circle cx="353.2" cy="127.7" r="1.8"/>
<circle cx="374.1" cy="139.3" r="1.8"/>
</g>
<g fill="#cccc00">
<circle cx="312.6" cy="102.3" r="1.8"/>
<circle cx="351.0" cy="118.0" r="1.8"/>
</g>
<g fill="#ff0000">
<circle cx="424.8" cy="101.2" r="1.8"/>
<circle cx="349.3" cy="115.1" r="1.8"/>
<circle cx="434.0" cy="127.2" r="1.8"/>
<circle cx="491.5" cy="127.7" r="1.8"/>
<circle cx="348.3" cy="118.5" r="1.8"/>
</g>
<g fill="#cccc00">
<circle cx="324.0" cy="116.4" r="1.8"/>
</g>
<g fill="#ff0000">
<circle cx="443.3" cy="134.4" r="1.8"/>
</g>
<g fill="#cccc00">
<circle cx="324.6" cy="108.0" r="1.8"/>
<circle cx="330.2" cy="123.0" r="1.8"/>
<circle cx="319.6" cy="108.6" r="1.8"/>
</g>
<g fill="#0000ff">
<circle cx="347.6" cy="119.2" r="1.8"/>
</g>
<g fill="#cccc00">
<circle cx="328.6" cy="114.6" r="1.8"/>
</g>
<g fill="#ff0000">
<circle cx="368.6" cy="63.7" r="1.8"/>
</g>
<g fill="#0000ff">
<circle cx="343.1" cy="121.8" r="1.8"/>
<circle cx="372.8" cy="130.3" r="1.8"/>
</g>
<g fill="#ff0000">
<circle cx="400.0" cy="144.9" r="1.8"/>
</g>
<g fill="#cccc00">
<circle cx="322.0" cy="106.4" r="1.8"/>
</g>
<g fill="#ff0000">
<circle cx="383.4" cy="136.8" r="1.8"/>
</g>
<g fill="#cccc00">
<circle cx="312.6" cy="108.5" r="1.8"/>
</g>
<g fill="#ff0000">
<circle cx="414.3" cy="145.1" r="1.8"/>
<circle cx="364.8" cy="82.8" r="1.8"/>
</g>
<g fill="#0000ff">
<circle cx="352.0" cy="87.9" r="1.8"/>
</g>
<g fill="#cccc00">
<circle cx="322.9" cy="94.7" r="1.8"/>
<circle cx="318.3" cy="124.4" r="1.8"/>
</g>
<g fill="#ff0000">
<circle cx="382.9" cy="124.8" r="1.8"/>
</g>
<g fill="#0000ff">
<circle cx="361.8" cy="95.1" r="1.8"/>
<circle cx="377.2" cy="103.9" r="1.8"/>
<circle cx="365.3" cy="135.1" r="1.8"/>
<circle cx="353.3" cy="121.5" r="1.8"/>
</g>
<g fill="#cccc00">
<circle cx="307.4" cy="76.1" r="1.8"/>
</g>
<g fill="#ff0000">
<circle cx="397.4" cy="134.3" r="1.8"/>
</g>
<g fill="#cccc00">
<circle cx="321.8" cy="100.2" r="1.8"/>
<circle cx="317.9" cy="51.7" r="1.8"/>
<circle cx="346.8" cy="115.6" r="1.8"/>
</g>
<g fill="#0000ff">
<circle cx="361.6" cy="99.6" r="1.8"/>
</g>
<g fill="#cccc00">
<circle cx="321.1" cy="94.7" r="1.8"/>
</g>
<g fill="#ff0000">
<circle cx="346.5" cy="140.0" r="1.8"/>
<circle cx="432.2" cy="109.9" r="1.8"/>
</g>
<g fill="#cccc00">
<circle cx="351.0" cy="111.9" r="1.8"/>
<circle cx="350.4" cy="61.2" r="1.8"/>
<circle cx="309.4" cy="77.3" r="1.8"/>
</g>
<g fill="#ff0000">
<circle cx="397.0" cy="134.3" r="1.8"/>
<circle cx="410.8" cy="126.8" r="1.8"/>
</g>
<g fill="#cccc00">
<circle cx="329.8" cy="94.7" r="1.8"/>
</g>
<g fill="#ff0000">
<circle cx="420.9" cy="144.4" r="1.8"/>
</g>
<g fill="#0000ff">
<circle cx="334.9" cy="133.8" r="1.8"/>
</g>
<g fill="#ff0000">
<circle cx="358.2" cy="118.2" r="1.8"/>
<circle cx="374.9" cy="126.1" r="1.8"/>
</g>
<g fill="#cccc00">
<circle cx="306.4" cy="139.6" r="1.8"/>
</g>
<g fill="#ff0000">
<circle cx="355.4" cy="121.5" r="1.8"/>
</g>
<g fill="#0000ff">
<circle cx="362.3" cy="110.8" r="1.8"/>
<circle cx="356.9" cy="120.5" r="1.8"/>
</g>
<g fill="#ff0000">
<circle cx="366.9" cy="111.9" r="1.8"/>
</g>
<g fill="#cccc00">
<circle cx="325.1" cy="134.8" r="1.8"/>
</g>
<g fill="#ff0000">
<circle cx="424.8" cy="143.8" r="1.8"/>
</g>
<g fill="#cccc00">
<circle cx="332.3" cy="93.5" r="1.8"/>
<circle cx="338.6" cy="70.5" r="1.8"/>
</g>
<g fill="#ff0000">
<circle cx="374.9" cy="158.2" r="1.8"/>
<circle cx="402.6" cy="107.0" r="1.8"/>
</g>
<g fill="#0000ff">
<circle cx="371.2" cy="102.4" r="1.8"/>
</g>
<g fill="#ff0000">
<circle cx="417.6" cy="127.9" r="1.8"/>
</g>
<g fill="#0000ff">
<circle cx="349.9" cy="125.6" r="1.8"/>
</g>
<g fill="#ff0000">
<circle cx="443.6" cy="131.0" r="1.8"/>
</g>
<g fill="#cccc00">
<circle cx="327.2" cy="109.5" r="1.8"/>
</g>
<g fill="#ff0000">
<circle cx="412.8" cy="135.3" r="1.8"/>
<circle cx="433.7" cy="125.1" r="1.8"/>
</g>
<g fill="#0000ff">
<circle cx="403.7" cy="143.4" r="1.8"/>
</g>
<g fill="#cccc00">
<circle cx="351.4" cy="113.7" r="1.8"/>
</g>
<g fill="#ff0000">
<circle cx="387.4" cy="124.1" r="1.8"/>
<circle cx="390.2" cy="133.2" r="1.8"/>
</g>
<g fill="#0000ff">
<circle cx="363.7" cy="103.0" r="1.8"/>
</g>
<g fill="#ff0000">
<circle cx="425.9" cy="137.2" r="1.8"/>
<circle cx="428.5" cy="133.2" r="1.8"/>
</g>
<g fill="#cccc00">
<circle cx="330.6" cy="95.3" r="1.8"/>
</g>
<g fill="#ff0000">
<circle cx="416.9" cy="128.9" r="1.8"/>
</g>
<g fill="#cccc00">
<circle cx="331.9" cy="118.9" r="1.8"/>
</g>
<g fill="#ff0000">
<circle cx="434.6" cy="139.1" r="1.8"/>
</g>
<g fill="#0000ff">
<circle cx="354.4" cy="124.8" r="1.8"/>
</g>
<g fill="#cccc00">
<circle cx="332.3" cy="70.5" r="1.8"/>
<circle cx="305.0" cy="89.8" r="1.8"/>
</g>
<g fill="#ff0000">
<circle cx="350.9" cy="128.8" r="1.8"/>
<circle cx="404.6" cy="133.8" r="1.8"/>
</g>
<g fill="#0000ff">
<circle cx="341.7" cy="115.7" r="1.8"/>
</g>
<g fill="#ff0000">
<circle cx="374.0" cy="122.3" r="1.8"/>
<circle cx="430.0" cy="119.8" r="1.8"/>
<circle cx="387.2" cy="116.7" r="1.8"/>
<circle cx="338.0" cy="76.4" r="1.8"/>
</g>
<g fill="#cccc00">
<circle cx="303.7" cy="83.5" r="1.8"/>
</g>
<g fill="#0000ff">
<circle cx="378.4" cy="134.0" r="1.8"/>
</g>
<g fill="#ff0000">
<circle cx="388.1" cy="136.9" r="1.8"/>
<circle cx="418.3" cy="127.6" r="1.8"/>
</g>
<g fill="#cccc00">
<circle cx="306.2" cy="99.2" r="1.8"/>
</g>
<g fill="#ff0000">
<circle cx="388.9" cy="130.3" r="1.8"/>
<circle cx="381.1" cy="111.7" r="1.8"/>
<circle cx="336.6" cy="131.7" r="1.8"/>
<circle cx="371.7" cy="118.3" r="1.8"/>
<circle cx="382.0" cy="88.7" r="1.8"/>
<circle cx="356.2" cy="132.4" r="1.8"/>
<circle cx="387.4" cy="137.0" r="1.8"/>
</g>
<g fill="#cccc00">
<circle cx="334.8" cy="78.6" r="1.8"/>
</g>
<g fill="#ff0000">
<circle cx="433.3" cy="128.0" r="1.8"/>
<circle cx="391.7" cy="113.9" r="1.8"/>
<circle cx="432.1" cy="110.5" r="1.8"/>
</g>
<g fill="#cccc00">
<circle cx="326.4" cy="104.8" r="1.8"/>
</g>
<g fill="#ff0000">
<circle cx="446.7" cy="135.4" r="1.8"/>
<circle cx="364.2" cy="116.9" r="1.8"/>
</g>
<g fill="#cccc00">
<circle cx="337.1" cy="116.4" r="1.8"/>
</g>
<g fill="#ff0000">
<circle cx="365.7" cy="84.5" r="1.8"/>
</g>
<g fill="#0000ff">
<circle cx="396.2" cy="135.4" r="1.8"/>
</g>
<g fill="#cccc00">
<circle cx="308.7" cy="56.9" r="1.8"/>
<circle cx="316.1" cy="87.3" r="1.8"/>
</g>
<g fill="#ff0000">
<circle cx="351.7" cy="87.7" r="1.8"/>
</g>
<g fill="#0000ff">
<circle cx="344.7" cy="117.9" r="1.8"/>
<circle cx="371.6" cy="133.8" r="1.8"/>
<circle cx="366.8" cy="83.0" r="1.8"/>
</g>
<g fill="#ff0000">
<circle cx="404.7" cy="143.0" r="1.8"/>
<circle cx="397.6" cy="146.5" r="1.8"/>
<circle cx="406.8" cy="110.7" r="1.8"/>
</g>
<g fill="#cccc00">
<circle cx="314.4" cy="67.9" r="1.8"/>
</g>
<g fill="#ff0000">
<circle cx="412.0" cy="124.3" r="1.8"/>
</g>
<g fill="#cccc00">
<circle cx="352.1" cy="108.7" r="1.8"/>
</g>
<g fill="#0000ff">
<circle cx="369.1" cy="128.2" r="1.8"/>
</g>
<g fill="#ff0000">
<circle cx="357.8" cy="108.4" r="1.8"/>
<circle cx="423.5" cy="139.9" r="1.8"/>
<circle cx="343.7" cy="132.1" r="1.8"/>
</g>
<g fill="#0000ff">
<circle cx="370.3" cy="145.9" r="1.8"/>
</g>
<g fill="#ff0000">
<circle cx="432.9" cy="127.1" r="1.8"/>
</g>
<g fill="#0000ff">
<circle cx="364.3" cy="125.1" r="1.8"/>
<circle cx="357.5" cy="109.9" r="1.8"/>
</g>
<g fill="#ff0000">
<circle cx="339.3" cy="135.0" r="1.8"/>
</g>
<g fill="#0000ff">
<circle cx="355.3" cy="127.3" r="1.8"/>
</g>
<g fill="#cccc00">
<circle cx="348.2" cy="121.1" r="1.8"/>
</g>
<g fill="#ff0000">
<circle cx="428.2" cy="132.0" r="1.8"/>
<circle cx="370.1" cy="134.7" r="1.8"/>
</g>
<g fill="#0000ff">
<circle cx="384.8" cy="120.2" r="1.8"/>
</g>
<g fill="#ff0000">
<circle cx="352.3" cy="123.0" r="1.8"/>
<circle cx="399.6" cy="126.9" r="1.8"/>
<circle cx="407.3" cy="117.7" r="1.8"/>
<circle cx="353.1" cy="86.8" r="1.8"/>
<circle cx="411.2" cy="148.6" r="1.8"/>
<circle cx="360.6" cy="131.1" r="1.8"/>
<circle cx="359.9" cy="160.6" r="1.8"/>
</g>
<g fill="#cccc00">
<circle cx="312.9" cy="76.8" r="1.8"/>
</g>
<g fill="#ff0000">
<circle cx="349.9" cy="91.0" r="1.8"/>
<circle cx="376.0" cy="74.9" r="1.8"/>
</g>
<g fill="#0000ff">
<circle cx="352.1" cy="101.5" r="1.8"/>
</g>
<g fill="#ff0000">
<circle cx="340.0" cy="83.2" r="1.8"/>
<circle cx="338.6" cy="122.0" r="1.8"/>
</g>
<g fill="#cccc00">
<circle cx="323.5" cy="100.3" r="1.8"/>
</g>
<g fill="#0000ff">
<circle cx="337.5" cy="112.6" r="1.8"/>
<circle cx="355.5" cy="129.9" r="1.8"/>
</g>
<g fill="#ff0000">
<circle cx="374.7" cy="105.9" r="1.8"/>
<circle cx="397.4" cy="117.0" r="1.8"/>
<circle cx="394.9" cy="120.1" r="1.8"/>
<circle cx="356.6" cy="145.0" r="1.8"/>
<circle cx="469.3" cy="125.1" r="1.8"/>
</g>
<g fill="#0000ff">
<circle cx="335.4" cy="102.1" r="1.8"/>
</g>
<g fill="#ff0000">
<circle cx="390.7" cy="116.9" r="1.8"/>
<circle cx="402.2" cy="114.9" r="1.8"/>
</g>
<g fill="#cccc00">
<circle cx="348.0" cy="115.0" r="1.8"/>
</g>
<g fill="#0000ff">
<circle cx="350.7" cy="97.4" r="1.8"/>
<circle cx="367.6" cy="143.1" r="1.8"/>
</g>
<g fill="#ff0000">
<circle cx="430.5" cy="130.4" r="1.8"/>
<circle cx="398.3" cy="134.6" r="1.8"/>
<circle cx="431.9" cy="118.7" r="1.8"/>
<circle cx="377.3" cy="132.6" r="1.8"/>
</g>
<g fill="#cccc00">
<circle cx="316.3" cy="124.2" r="1.8"/>
<circle cx="356.5" cy="113.0" r="1.8"/>
</g>
<g fill="#0000ff">
<circle cx="353.0" cy="101.1" r="1.8"/>
</g>
<g fill="#ff0000">
<circle cx="350.9" cy="80.0" r="1.8"/>
<circle cx="364.2" cy="80.9" r="1.8"/>
<circle cx="432.1" cy="140.5" r="1.8"/>
</g>
<g fill="#0000ff">
<circle cx="352.4" cy="140.9" r="1.8"/>
</g>
<g fill="#cccc00">
<circle cx="306.2" cy="79.8" r="1.8"/>
</g>
<g fill="#ff0000">
<circle cx="431.8" cy="138.3" r="1.8"/>
<circle cx="339.6" cy="103.3" r="1.8"/>
<circle cx="403.9" cy="126.2" r="1.8"/>
<circle cx="369.9" cy="153.3" r="1.8"/>
</g>
<g fill="#cccc00">
<circle cx="329.3" cy="118.1" r="1.8"/>
<circle cx="351.1" cy="105.9" r="1.8"/>
</g>
<g fill="#ff0000">
<circle cx="435.8" cy="106.0" r="1.8"/>
</g>
<g fill="#cccc00">
<circle cx="326.1" cy="101.2" r="1.8"/>
</g>
<g fill="#ff0000">
<circle cx="350.4" cy="77.3" r="1.8"/>
</g>
<g fill="#cccc00">
<circle cx="340.6" cy="118.2" r="1.8"/>
</g>
<g fill="#0000ff">
<circle cx="352.3" cy="103.6" r="1.8"/>
</g>
<g fill="#ff0000">
<circle cx="404.7" cy="141.1" r="1.8"/>
<circle cx="355.7" cy="120.1" r="1.8"/>
<circle cx="443.5" cy="134.5" r="1.8"/>
<circle cx="410.9" cy="119.7" r="1.8"/>
</g>
<g fill="#0000ff">
<circle cx="364.5" cy="115.2" r="1.8"/>
</g>
<g fill="#ff0000">
<circle cx="340.1" cy="123.9" r="1.8"/>
<circle cx="427.3" cy="98.7" r="1.8"/>
</g>
<g fill="#cccc00">
<circle cx="302.5" cy="52.4" r="1.8"/>
<circle cx="302.0" cy="88.5" r="1.8"/>
</g>
<g fill="#ff0000">
<circle cx="367.0" cy="84.6" r="1.8"/>
<circle cx="373.6" cy="69.9" r="1.8"/>
</g>
<g fill="#cccc00">
<circle cx="336.0" cy="81.0" r="1.8"/>
</g>
<g fill="#ff0000">
<circle cx="345.4" cy="118.2" r="1.8"/>
</g>
<g fill="#0000ff">
<circle cx="357.1" cy="112.2" r="1.8"/>
</g>
<g fill="#cccc00">
<circle cx="317.1" cy="113.0" r="1.8"/>
</g>
<g fill="#ff0000">
<circle cx="361.7" cy="80.1" r="1.8"/>
<circle cx="451.1" cy="147.2" r="1.8"/>
</g>
<g fill="#cccc00">
<circle cx="340.2" cy="111.1" r="1.8"/>
</g>
<g fill="#ff0000">
<circle cx="368.5" cy="132.7" r="1.8"/>
<circle cx="387.8" cy="113.1" r="1.8"/>
<circle cx="392.2" cy="124.5" r="1.8"/>
<circle cx="428.0" cy="131.9" r="1.8"/>
<circle cx="402.1" cy="142.3" r="1.8"/>
<circle cx="418.1" cy="125.3" r="1.8"/>
</g>
<g fill="#0000ff">
<circle cx="376.5" cy="153.3" r="1.8"/>
<circle cx="351.0" cy="105.7" r="1.8"/>
</g>
<g fill="#ff0000">
<circle cx="379.7" cy="126.5" r="1.8"/>
</g>
<g fill="#0000ff">
<circle cx="351.5" cy="96.2" r="1.8"/>
</g>
<g fill="#cccc00">
<circle cx="302.0" cy="60.4" r="1.8"/>
</g>
<g fill="#ff0000">
<circle cx="391.8" cy="136.9" r="1.8"/>
<circle cx="346.1" cy="73.7" r="1.8"/>
</g>
<g fill="#cccc00">
<circle cx="321.8" cy="98.3" r="1.8"/>
<circle cx="318.0" cy="91.1" r="1.8"/>
</g>
<g fill="#ff0000">
<circle cx="416.1" cy="146.9" r="1.8"/>
<circle cx="408.7" cy="112.0" r="1.8"/>
<circle cx="435.3" cy="123.2" r="1.8"/>
</g>
<g fill="#0000ff">
<circle cx="353.8" cy="115.6" r="1.8"/>
</g>
<g fill="#ff0000">
<circle cx="436.8" cy="140.9" r="1.8"/>
</g>
<g fill="#cccc00">
<circle cx="306.2" cy="68.6" r="1.8"/>
</g>
<g fill="#0000ff">
<circle cx="339.6" cy="125.1" r="1.8"/>
</g>
<g fill="#ff0000">
<circle cx="422.1" cy="138.9" r="1.8"/>
<circle cx="355.0" cy="78.2" r="1.8"/>
</g>
<g fill="#cccc00">
<circle cx="332.4" cy="108.7" r="1.8"/>
</g>
<g fill="#ff0000">
<circle cx="409.8" cy="131.0" r="1.8"/>
<circle cx="336.5" cy="100.2" r="1.8"/>
<circle cx="412.3" cy="86.0" r="1.8"/>
</g>
<g fill="#0000ff">
<circle cx="375.2" cy="148.1" r="1.8"/>
</g>
<g fill="#cccc00">
<circle cx="327.2" cy="124.0" r="1.8"/>
<circle cx="350.2" cy="107.5" r="1.8"/>
<circle cx="310.6" cy="114.1" r="1.8"/>
</g>
<g fill="#ff0000">
<circle cx="418.0" cy="136.5" r="1.8"/>
<circle cx="399.1" cy="122.6" r="1.8"/>
</g>
<g fill="#cccc00">
<circle cx="324.9" cy="78.6" r="1.8"/>
<circle cx="324.0" cy="114.7" r="1.8"/>
</g>
<g fill="#0000ff">
<circle cx="399.8" cy="113.5" r="1.8"/>
</g>
<g fill="#cccc00">
<circle cx="315.7" cy="97.5" r="1.8"/>
</g>
<g fill="#ff0000">
<circle cx="351.8" cy="110.4" r="1.8"/>
<circle cx="398.5" cy="98.6" r="1.8"/>
</g>
<g fill="#cccc00">
<circle cx="322.3" cy="115.1" r="1.8"/>
</g>
<g fill="#ff0000">
<circle cx="361.2" cy="116.8" r="1.8"/>
</g>
<g fill="#0000ff">
<circle cx="356.8" cy="97.1" r="1.8"/>
<circle cx="398.7" cy="112.9" r="1.8"/>
</g>
<g fill="#ff0000">
<circle cx="432.7" cy="133.0" r="1.8"/>
</g>
<g fill="#0000ff">
<circle cx="366.3" cy="113.5" r="1.8"/>
</g>
<g fill="#ff0000">
<circle cx="341.0" cy="56.9" r="1.8"/>
</g>
<g fill="#0000ff">
<circle cx="354.4" cy="117.8" r="1.8"/>
</g>
<g fill="#ff0000">
<circle cx="426.1" cy="136.5" r="1.8"/>
<circle cx="407.4" cy="135.8" r="1.8"/>
</g>
<g fill="#0000ff">
<circle cx="346.5" cy="103.7" r="1.8"/>
</g>
<g fill="#ff0000">
<circle cx="354.1" cy="105.2" r="1.8"/>
<circle cx="422.4" cy="147.9" r="1.8"/>
</g>
<g fill="#cccc00">
<circle cx="323.2" cy="11.2" r="1.8"/>
</g>
<g fill="#ff0000">
<circle cx="364.0" cy="74.8" r="1.8"/>
</g>
<g fill="#0000ff">
<circle cx="369.0" cy="139.1" r="1.8"/>
</g>
<g fill="#ff0000">
<circle cx="411.3" cy="130.1" r="1.8"/>
</g>
<g fill="#cccc00">
<circle cx="334.4" cy="122.0" r="1.8"/>
</g>
<g fill="#ff0000">
<circle cx="409.3" cy="118.7" r="1.8"/>
<circle cx="354.3" cy="124.3" r="1.8"/>
</g>
<g fill="#0000ff">
<circle cx="336.4" cy="135.2" r="1.8"/>
<circle cx="355.1" cy="119.5" r="1.8"/>
</g>
<g fill="#ff0000">
<circle cx="351.2" cy="54.5" r="1.8"/>
</g>
<g fill="#cccc00">
<circle cx="339.7" cy="88.0" r="1.8"/>
<circle cx="354.8" cy="115.7" r="1.8"/>
</g>
<g fill="#0000ff">
<circle cx="357.9" cy="126.8" r="1.8"/>
</g>
<g fill="#ff0000">
<circle cx="366.1" cy="62.0" r="1.8"/>
</g>
<g fill="#cccc00">
<circle cx="310.4" cy="31.1" r="1.8"/>
</g>
<g fill="#ff0000">
<circle cx="356.2" cy="132.1" r="1.8"/>
<circle cx="379.1" cy="132.5" r="1.8"/>
</g>
<g fill="#cccc00">
<circle cx="331.8" cy="71.1" r="1.8"/>
</g>
<g fill="#0000ff">
<circle cx="339.8" cy="61.9" r="1.8"/>
</g>
<g fill="#ff0000">
<circle cx="391.5" cy="126.8" r="1.8"/>
<circle cx="336.5" cy="129.9" r="1.8"/>
<circle cx="368.0" cy="125.2" r="1.8"/>
<circle cx="417.3" cy="95.0" r="1.8"/>
</g>
<g fill="#cccc00">
<circle cx="336.9" cy="105.8" r="1.8"/>
</g>
<g fill="#ff0000">
<circle cx="357.8" cy="78.5" r="1.8"/>
</g>
<g fill="#cccc00">
<circle cx="316.8" cy="102.9" r="1.8"/>
<circle cx="322.4" cy="92.1" r="1.8"/>
</g>
<g fill="#ff0000">
<circle cx="411.8" cy="122.8" r="1.8"/>
<circle cx="393.5" cy="140.2" r="1.8"/>
</g>
<g fill="#0000ff">
<circle cx="366.9" cy="132.4" r="1.8"/>
</g>
<g fill="#ff0000">
<circle cx="410.4" cy="116.6" r="1.8"/>
</g>
<g fill="#cccc00">
<circle cx="311.2" cy="82.3" r="1.8"/>
</g>
<g fill="#ff0000">
<circle cx="351.1" cy="77.9" r="1.8"/>
<circle cx="404.8" cy="126.2" r="1.8"/>
</g>
<g fill="#0000ff">
<circle cx="356.6" cy="100.5" r="1.8"/>
</g>
<g fill="#ff0000">
<circle cx="369.7" cy="66.4" r="1.8"/>
</g>
<g fill="#0000ff">
<circle cx="339.5" cy="61.2" r="1.8"/>
</g>
<g fill="#ff0000">
<circle cx="393.6" cy="118.3" r="1.8"/>
</g>
<g fill="#cccc00">
<circle cx="305.7" cy="71.1" r="1.8"/>
<circle cx="305.4" cy="99.1" r="1.8"/>
</g>
<g fill="#ff0000">
<circle cx="366.2" cy="108.4" r="1.8"/>
<circle cx="343.5" cy="54.4" r="1.8"/>
</g>
<g fill="#cccc00">
<circle cx="331.3" cy="113.7" r="1.8"/>
<circle cx="326.1" cy="118.9" r="1.8"/>
<circle cx="328.6" cy="104.7" r="1.8"/>
</g>
<g fill="#ff0000">
<circle cx="378.6" cy="128.8" r="1.8"/>
<circle cx="352.9" cy="79.2" r="1.8"/>
<circle cx="348.1" cy="124.5" r="1.8"/>
</g>
<g fill="#0000ff">
<circle cx="356.2" cy="107.7" r="1.8"/>
<circle cx="331.0" cy="130.2" r="1.8"/>
</g>
<g fill="#ff0000">
<circle cx="401.4" cy="146.6" r="1.8"/>
<circle cx="380.8" cy="126.3" r="1.8"/>
<circle cx="393.9" cy="115.2" r="1.8"/>
</g>
<g fill="#cccc00">
<circle cx="330.3" cy="98.1" r="1.8"/>
</g>
<g fill="#0000ff">
<circle cx="373.2" cy="148.3" r="1.8"/>
</g>
<g fill="#ff0000">
<circle cx="390.6" cy="141.2" r="1.8"/>
</g>
<g fill="#0000ff">
<circle cx="361.8" cy="138.4" r="1.8"/>
</g>
<g fill="#ff0000">
<circle cx="349.7" cy="115.9" r="1.8"/>
<circle cx="339.6" cy="134.4" r="1.8"/>
</g>
<g fill="#0000ff">
<circle cx="352.3" cy="128.5" r="1.8"/>
</g>
<g fill="#ff0000">
<circle cx="375.9" cy="73.9" r="1.8"/>
<circle cx="409.4" cy="123.5" r="1.8"/>
<circle cx="393.5" cy="121.7" r="1.8"/>
<circle cx="383.6" cy="142.0" r="1.8"/>
</g>
<g fill="#0000ff">
<circle cx="344.9" cy="96.7" r="1.8"/>
</g>
<g fill="#ff0000">
<circle cx="461.3" cy="125.6" r="1.8"/>
<circle cx="367.6" cy="62.2" r="1.8"/>
<circle cx="462.4" cy="117.7" r="1.8"/>
</g>
<g fill="#cccc00">
<circle cx="317.8" cy="109.1" r="1.8"/>
</g>
<g fill="#ff0000">
<circle cx="431.1" cy="140.4" r="1.8"/>
<circle cx="347.0" cy="120.2" r="1.8"/>
<circle cx="355.0" cy="112.8" r="1.8"/>
</g>
<g fill="#00ff00">
<circle cx="664.8" cy="120.2" r="1.8"/>
<circle cx="663.6" cy="84.3" r="1.8"/>
<circle cx="669.1" cy="116.6" r="1.8"/>
<circle cx="671.9" cy="88.3" r="1.8"/>
<circle cx="670.6" cy="111.9" r="1.8"/>
<circle cx="685.3" cy="123.4" r="1.8"/>
<circle cx="652.1" cy="94.5" r="1.8"/>
<circle cx="654.9" cy="118.2" r="1.8"/>
<circle cx="661.4" cy="85.0" r="1.8"/>
<circle cx="648.3" cy="138.9" r="1.8"/>
<circle cx="688.1" cy="148.0" r="1.8"/>
<circle cx="664.8" cy="119.9" r="1.8"/>
<circle cx="695.6" cy="165.6" r="1.8"/>
<circle cx="694.9" cy="165.5" r="1.8"/>
<circle cx="666.1" cy="119.9" r="1.8"/>
<circle cx="654.2" cy="134.8" r="1.8"/>
<circle cx="700.9" cy="166.9" r="1.8"/>
<circle cx="646.1" cy="87.3" r="1.8"/>
<circle cx="670.4" cy="130.3" r="1.8"/>
<circle cx="646.6" cy="125.7" r="1.8"/>
<circle cx="668.0" cy="157.4" r="1.8"/>
<circle cx="683.8" cy="112.4" r="1.8"/>
<circle cx="661.8" cy="123.9" r="1.8"/>
<circle cx="670.5" cy="139.1" r="1.8"/>
<circle cx="666.2" cy="155.7" r="1.8"/>
<circle cx="665.8" cy="118.9" r="1.8"/>
<circle cx="665.6" cy="139.6" r="1.8"/>
<circle cx="647.4" cy="107.4" r="1.8"/>
<circle cx="666.2" cy="98.9" r="1.8"/>
<circle cx="667.1" cy="163.4" r="1.8"/>
<circle cx="644.4" cy="59.9" r="1.8"/>
<circle cx="677.2" cy="131.2" r="1.8"/>
<circle cx="659.8" cy="96.2" r="1.8"/>
<circle cx="671.6" cy="122.7" r="1.8"/>
<circle cx="657.0" cy="112.6" r="1.8"/>
<circle cx="671.4" cy="97.8" r="1.8"/>
<circle cx="679.6" cy="177.1" r="1.8"/>
<circle cx="652.7" cy="110.4" r="1.8"/>
<circle cx="668.1" cy="129.3" r="1.8"/>
<circle cx="672.2" cy="148.3" r="1.8"/>
<circle cx="664.8" cy="98.7" r="1.8"/>
<circle cx="663.3" cy="119.4" r="1.8"/>
<circle cx="653.9" cy="118.3" r="1.8"/>
<circle cx="659.2" cy="125.0" r="1.8"/>
<circle cx="685.8" cy="136.0" r="1.8"/>
<circle cx="676.0" cy="141.4" r="1.8"/>
<circle cx="656.4" cy="78.0" r="1.8"/>
<circle cx="651.1" cy="127.7" r="1.8"/>
<circle cx="686.5" cy="149.8" r="1.8"/>
<circle cx="653.7" cy="104.3" r="1.8"/>
<circle cx="665.3" cy="85.2" r="1.8"/>
<circle cx="658.4" cy="133.1" r="1.8"/>
<circle cx="662.8" cy="113.3" r="1.8"/>
<circle cx="669.4" cy="143.2" r="1.8"/>
<circle cx="694.8" cy="172.9" r="1.8"/>
<circle cx="703.3" cy="174.8" r="1.8"/>
<circle cx="654.4" cy="108.3" r="1.8"/>
<circle cx="683.5" cy="112.7" r="1.8"/>
<circle cx="643.7" cy="89.8" r="1.8"/>
<circle cx="665.6" cy="108.1" r="1.8"/>
<circle cx="658.6" cy="69.9" r="1.8"/>
<circle cx="675.5" cy="128.0" r="1.8"/>
<circle cx="686.7" cy="146.6" r="1.8"/>
<circle cx="660.0" cy="112.4" r="1.8"/>
<circle cx="655.4" cy="140.6" r="1.8"/>
<circle cx="674.4" cy="134.5" r="1.8"/>
<circle cx="652.0" cy="143.5" r="1.8"/>
<circle cx="686.5" cy="140.6" r="1.8"/>
<circle cx="670.1" cy="117.7" r="1.8"/>
<circle cx="677.9" cy="148.2" r="1.8"/>
<circle cx="644.0" cy="85.8" r="1.8"/>
<circle cx="655.2" cy="109.5" r="1.8"/>
<circle cx="682.5" cy="163.3" r="1.8"/>
<circle cx="673.3" cy="137.1" r="1.8"/>
<circle cx="656.7" cy="128.7" r="1.8"/>
<circle cx="673.0" cy="147.3" r="1.8"/>
<circle cx="669.1" cy="158.0" r="1.8"/>
<circle cx="672.2" cy="158.8" r="1.8"/>
<circle cx="696.7" cy="179.7" r="1.8"/>
<circle cx="668.3" cy="96.2" r="1.8"/>
<circle cx="662.9" cy="155.8" r="1.8"/>
<circle cx="652.1" cy="149.5" r="1.8"/>
<circle cx="678.3" cy="138.6" r="1.8"/>
<circle cx="654.3" cy="129.9" r="1.8"/>
<circle cx="657.9" cy="110.2" r="1.8"/>
<circle cx="692.3" cy="163.2" r="1.8"/>
<circle cx="683.5" cy="117.3" r="1.8"/>
<circle cx="653.0" cy="121.6" r="1.8"/>
<circle cx="650.1" cy="125.9" r="1.8"/>
<circle cx="661.8" cy="92.9" r="1.8"/>
<circle cx="683.3" cy="108.0" r="1.8"/>
<circle cx="672.7" cy="99.9" r="1.8"/>
<circle cx="687.4" cy="154.7" r="1.8"/>
<circle cx="666.5" cy="137.3" r="1.8"/>
<circle cx="659.9" cy="94.8" r="1.8"/>
<circle cx="656.6" cy="128.4" r="1.8"/>
<circle cx="673.3" cy="122.8" r="1.8"/>
<circle cx="666.9" cy="169.2" r="1.8"/>
<circle cx="654.9" cy="153.3" r="1.8"/>
<circle cx="662.3" cy="96.5" r="1.8"/>
<circle cx="663.4" cy="132.9" r="1.8"/>
<circle cx="666.6" cy="117.9" r="1.8"/>
<circle cx="669.9" cy="133.3" r="1.8"/>
<circle cx="689.6" cy="134.4" r="1.8"/>
<circle cx="687.0" cy="115.2" r="1.8"/>
<circle cx="681.6" cy="152.8" r="1.8"/>
<circle cx="687.3" cy="127.3" r="1.8"/>
<circle cx="671.8" cy="136.9" r="1.8"/>
<circle cx="679.3" cy="145.5" r="1.8"/>
<circle cx="662.4" cy="100.3" r="1.8"/>
<circle cx="664.7" cy="108.6" r="1.8"/>
<circle cx="691.4" cy="162.9" r="1.8"/>
<circle cx="672.2" cy="118.5" r="1.8"/>
<circle cx="656.4" cy="132.8" r="1.8"/>
<circle cx="656.3" cy="124.9" r="1.8"/>
<circle cx="656.7" cy="145.9" r="1.8"/>
<circle cx="666.3" cy="110.0" r="1.8"/>
<circle cx="669.6" cy="142.4" r="1.8"/>
<circle cx="674.5" cy="103.9" r="1.8"/>
<circle cx="657.3" cy="154.8" r="1.8"/>
<circle cx="689.0" cy="181.1" r="1.8"/>
<circle cx="659.9" cy="137.0" r="1.8"/>
<circle cx="658.7" cy="134.4" r="1.8"/>
<circle cx="667.1" cy="139.9" r="1.8"/>
<circle cx="653.5" cy="111.8" r="1.8"/>
<circle cx="662.2" cy="129.8" r="1.8"/>
<circle cx="694.9" cy="168.7" r="1.8"/>
<circle cx="652.3" cy="88.0" r="1.8"/>
<circle cx="658.1" cy="111.1" r="1.8"/>
<circle cx="689.6" cy="171.2" r="1.8"/>
<circle cx="647.6" cy="118.6" r="1.8"/>
<circle cx="669.0" cy="134.3" r="1.8"/>
<circle cx="660.2" cy="131.7" r="1.8"/>
<circle cx="644.2" cy="104.9" r="1.8"/>
<circle cx="691.2" cy="124.6" r="1.8"/>
<circle cx="662.7" cy="122.1" r="1.8"/>
<circle cx="664.9" cy="174.8" r="1.8"/>
<circle cx="675.5" cy="117.3" r="1.8"/>
<circle cx="675.0" cy="123.8" r="1.8"/>
<circle cx="645.7" cy="106.4" r="1.8"/>
<circle cx="688.6" cy="159.4" r="1.8"/>
<circle cx="668.5" cy="114.9" r="1.8"/>
<circle cx="670.9" cy="118.0" r="1.8"/>
<circle cx="645.7" cy="112.1" r="1.8"/>
<circle cx="684.0" cy="161.2" r="1.8"/>
<circle cx="677.7" cy="113.4" r="1.8"/>
<circle cx="665.6" cy="150.8" r="1.8"/>
<circle cx="684.2" cy="168.0" r="1.8"/>
<circle cx="647.6" cy="128.8" r="1.8"/>
<circle cx="689.6" cy="182.7" r="1.8"/>
<circle cx="674.3" cy="124.8" r="1.8"/>
<circle cx="660.0" cy="87.2" r="1.8"/>
<circle cx="643.6" cy="131.8" r="1.8"/>
<circle cx="676.6" cy="176.9" r="1.8"/>
<circle cx="661.5" cy="131.5" r="1.8"/>
<circle cx="692.0" cy="164.3" r="1.8"/>
<circle cx="663.6" cy="164.1" r="1.8"/>
<circle cx="670.5" cy="126.9" r="1.8"/>
<circle cx="659.5" cy="89.9" r="1.8"/>
<circle cx="691.1" cy="168.9" r="1.8"/>
<circle cx="654.8" cy="108.5" r="1.8"/>
<circle cx="676.6" cy="106.9" r="1.8"/>
<circle cx="652.1" cy="85.5" r="1.8"/>
<circle cx="659.0" cy="89.5" r="1.8"/>
<circle cx="691.4" cy="162.6" r="1.8"/>
<circle cx="687.5" cy="176.0" r="1.8"/>
<circle cx="694.7" cy="122.2" r="1.8"/>
<circle cx="643.7" cy="72.8" r="1.8"/>
<circle cx="663.1" cy="113.6" r="1.8"/>
<circle cx="639.5" cy="77.3" r="1.8"/>
<circle cx="663.0" cy="130.2" r="1.8"/>
<circle cx="639.0" cy="123.1" r="1.8"/>
<circle cx="687.8" cy="151.4" r="1.8"/>
<circle cx="679.2" cy="88.3" r="1.8"/>
<circle cx="665.3" cy="157.9" r="1.8"/>
<circle cx="702.5" cy="164.7" r="1.8"/>
<circle cx="669.6" cy="154.1" r="1.8"/>
<circle cx="640.0" cy="84.3" r="1.8"/>
<circle cx="702.7" cy="155.9" r="1.8"/>
<circle cx="645.6" cy="125.4" r="1.8"/>
<circle cx="692.7" cy="174.3" r="1.8"/>
<circle cx="661.1" cy="134.7" r="1.8"/>
<circle cx="668.0" cy="103.2" r="1.8"/>
<circle cx="668.1" cy="141.4" r="1.8"/>
<circle cx="674.9" cy="157.5" r="1.8"/>
<circle cx="654.9" cy="104.8" r="1.8"/>
<circle cx="679.2" cy="165.8" r="1.8"/>
<circle cx="659.1" cy="124.5" r="1.8"/>
<circle cx="664.1" cy="165.9" r="1.8"/>
<circle cx="674.1" cy="134.8" r="1.8"/>
<circle cx="666.5" cy="127.9" r="1.8"/>
<circle cx="654.6" cy="93.5" r="1.8"/>
<circle cx="688.1" cy="127.8" r="1.8"/>
<circle cx="664.0" cy="123.0" r="1.8"/>
<circle cx="657.4" cy="110.7" r="1.8"/>
<circle cx="663.6" cy="147.0" r="1.8"/>
<circle cx="685.2" cy="126.9" r="1.8"/>
<circle cx="680.6" cy="108.8" r="1.8"/>
<circle cx="641.9" cy="74.3" r="1.8"/>
<circle cx="685.7" cy="163.5" r="1.8"/>
<circle cx="644.4" cy="81.0" r="1.8"/>
<circle cx="681.5" cy="123.8" r="1.8"/>
<circle cx="650.6" cy="98.0" r="1.8"/>
<circle cx="656.9" cy="129.3" r="1.8"/>
<circle cx="668.6" cy="100.3" r="1.8"/>
<circle cx="667.2" cy="141.1" r="1.8"/>
<circle cx="676.5" cy="131.5" r="1.8"/>
<circle cx="673.0" cy="124.8" r="1.8"/>
<circle cx="663.9" cy="147.4" r="1.8"/>
<circle cx="662.8" cy="119.0" r="1.8"/>
<circle cx="679.7" cy="131.7" r="1.8"/>
<circle cx="680.7" cy="171.3" r="1.8"/>
<circle cx="680.9" cy="153.4" r="1.8"/>
<circle cx="680.4" cy="147.2" r="1.8"/>
<circle cx="653.2" cy="82.8" r="1.8"/>
<circle cx="681.2" cy="144.9" r="1.8"/>
<circle cx="685.4" cy="152.7" r="1.8"/>
<circle cx="659.0" cy="128.0" r="1.8"/>
<circle cx="687.4" cy="174.1" r="1.8"/>
<circle cx="670.0" cy="148.3" r="1.8"/>
<circle cx="674.0" cy="129.8" r="1.8"/>
<circle cx="660.9" cy="92.1" r="1.8"/>
<circle cx="670.8" cy="120.4" r="1.8"/>
<circle cx="673.5" cy="158.8" r="1.8"/>
<circle cx="665.8" cy="163.8" r="1.8"/>
<circle cx="681.6" cy="117.4" r="1.8"/>
<circle cx="648.7" cy="125.7" r="1.8"/>
<circle cx="669.5" cy="99.1" r="1.8"/>
<circle cx="642.6" cy="127.3" r="1.8"/>
<circle cx="672.3" cy="146.2" r="1.8"/>
<circle cx="684.8" cy="172.1" r="1.8"/>
<circle cx="676.3" cy="125.3" r="1.8"/>
<circle cx="664.9" cy="100.6" r="1.8"/>
<circle cx="660.3" cy="124.6" r="1.8"/>
<circle cx="692.4" cy="183.8" r="1.8"/>
<circle cx="665.7" cy="164.5" r="1.8"/>
<circle cx="672.4" cy="108.3" r="1.8"/>
<circle cx="665.4" cy="102.4" r="1.8"/>
<circle cx="660.6" cy="96.6" r="1.8"/>
<circle cx="687.6" cy="179.0" r="1.8"/>
<circle cx="648.5" cy="77.5" r="1.8"/>
<circle cx="664.1" cy="122.8" r="1.8"/>
<circle cx="671.7" cy="137.4" r="1.8"/>
<circle cx="669.0" cy="140.2" r="1.8"/>
<circle cx="657.7" cy="74.4" r="1.8"/>
<circle cx="704.0" cy="163.4" r="1.8"/>
<circle cx="662.6" cy="152.6" r="1.8"/>
<circle cx="638.4" cy="96.9" r="1.8"/>
<circle cx="666.9" cy="130.8" r="1.8"/>
<circle cx="666.1" cy="118.7" r="1.8"/>
<circle cx="643.8" cy="124.8" r="1.8"/>
<circle cx="665.4" cy="128.0" r="1.8"/>
<circle cx="669.2" cy="92.9" r="1.8"/>
<circle cx="674.5" cy="165.6" r="1.8"/>
<circle cx="698.2" cy="171.4" r="1.8"/>
<circle cx="672.3" cy="147.0" r="1.8"/>
<circle cx="657.3" cy="151.4" r="1.8"/>
<circle cx="650.8" cy="95.0" r="1.8"/>
<circle cx="682.6" cy="161.1" r="1.8"/>
<circle cx="688.3" cy="164.1" r="1.8"/>
<circle cx="684.4" cy="104.0" r="1.8"/>
<circle cx="677.1" cy="118.9" r="1.8"/>
<circle cx="641.9" cy="83.8" r="1.8"/>
<circle cx="654.2" cy="119.7" r="1.8"/>
<circle cx="639.7" cy="84.7" r="1.8"/>
<circle cx="661.5" cy="133.8" r="1.8"/>
<circle cx="657.5" cy="127.1" r="1.8"/>
<circle cx="656.2" cy="147.0" r="1.8"/>
<circle cx="674.7" cy="140.8" r="1.8"/>
<circle cx="653.8" cy="124.9" r="1.8"/>
<circle cx="671.4" cy="156.2" r="1.8"/>
<circle cx="645.9" cy="114.8" r="1.8"/>
<circle cx="648.5" cy="121.9" r="1.8"/>
<circle cx="675.2" cy="114.3" r="1.8"/>
<circle cx="670.9" cy="140.6" r="1.8"/>
<circle cx="646.5" cy="125.9" r="1.8"/>
<circle cx="662.9" cy="104.6" r="1.8"/>
<circle cx="675.3" cy="139.8" r="1.8"/>
<circle cx="673.2" cy="139.6" r="1.8"/>
<circle cx="655.6" cy="119.6" r="1.8"/>
<circle cx="701.2" cy="166.7" r="1.8"/>
<circle cx="681.0" cy="173.6" r="1.8"/>
<circle cx="682.0" cy="104.7" r="1.8"/>
<circle cx="679.4" cy="133.5" r="1.8"/>
<circle cx="691.7" cy="169.8" r="1.8"/>
<circle cx="688.2" cy="163.1" r="1.8"/>
<circle cx="671.8" cy="109.3" r="1.8"/>
<circle cx="677.9" cy="111.4" r="1.8"/>
<circle cx="663.0" cy="91.7" r="1.8"/>
<circle cx="682.5" cy="183.9" r="1.8"/>
<circle cx="668.7" cy="144.8" r="1.8"/>
<circle cx="636.2" cy="96.6" r="1.8"/>
<circle cx="682.6" cy="141.4" r="1.8"/>
<circle cx="659.8" cy="125.3" r="1.8"/>
<circle cx="683.6" cy="122.4" r="1.8"/>
<circle cx="691.9" cy="165.6" r="1.8"/>
<circle cx="668.9" cy="126.3" r="1.8"/>
<circle cx="693.9" cy="178.4" r="1.8"/>
<circle cx="665.9" cy="123.6" r="1.8"/>
<circle cx="666.3" cy="87.8" r="1.8"/>
<circle cx="644.1" cy="94.6" r="1.8"/>
<circle cx="662.3" cy="114.5" r="1.8"/>
<circle cx="653.9" cy="133.2" r="1.8"/>
<circle cx="660.7" cy="136.6" r="1.8"/>
<circle cx="650.2" cy="140.1" r="1.8"/>
<circle cx="673.0" cy="124.2" r="1.8"/>
<circle cx="648.7" cy="84.3" r="1.8"/>
<circle cx="662.3" cy="170.4" r="1.8"/>
<circle cx="648.3" cy="129.1" r="1.8"/>
<circle cx="692.6" cy="171.5" r="1.8"/>
<circle cx="699.1" cy="173.0" r="1.8"/>
<circle cx="663.1" cy="117.2" r="1.8"/>
<circle cx="682.5" cy="109.7" r="1.8"/>
<circle cx="661.1" cy="165.5" r="1.8"/>
<circle cx="657.5" cy="110.1" r="1.8"/>
<circle cx="682.3" cy="173.8" r="1.8"/>
<circle cx="693.0" cy="165.3" r="1.8"/>
<circle cx="706.4" cy="173.8" r="1.8"/>
<circle cx="677.7" cy="148.1" r="1.8"/>
<circle cx="672.4" cy="108.3" r="1.8"/>
<circle cx="656.5" cy="111.4" r="1.8"/>
<circle cx="640.0" cy="110.4" r="1.8"/>
<circle cx="659.4" cy="141.4" r="1.8"/>
<circle cx="680.7" cy="148.6" r="1.8"/>
<circle cx="668.0" cy="93.9" r="1.8"/>
<circle cx="673.1" cy="163.9" r="1.8"/>
<circle cx="656.9" cy="151.3" r="1.8"/>
<circle cx="679.3" cy="162.9" r="1.8"/>
<circle cx="661.5" cy="154.4" r="1.8"/>
<circle cx="668.0" cy="157.5" r="1.8"/>
<circle cx="686.6" cy="168.1" r="1.8"/>
<circle cx="677.3" cy="125.5" r="1.8"/>
<circle cx="661.3" cy="120.9" r="1.8"/>
<circle cx="666.9" cy="144.5" r="1.8"/>
<circle cx="664.0" cy="108.1" r="1.8"/>
<circle cx="650.5" cy="121.6" r="1.8"/>
<circle cx="691.2" cy="138.7" r="1.8"/>
<circle cx="685.1" cy="123.0" r="1.8"/>
<circle cx="648.7" cy="87.3" r="1.8"/>
<circle cx="673.4" cy="123.7" r="1.8"/>
<circle cx="674.5" cy="97.3" r="1.8"/>
<circle cx="674.1" cy="99.3" r="1.8"/>
<circle cx="675.1" cy="111.4" r="1.8"/>
<circle cx="674.3" cy="177.9" r="1.8"/>
<circle cx="661.2" cy="115.4" r="1.8"/>
<circle cx="681.6" cy="122.3" r="1.8"/>
<circle cx="639.0" cy="77.1" r="1.8"/>
<circle cx="650.4" cy="104.0" r="1.8"/>
<circle cx="647.5" cy="138.1" r="1.8"/>
<circle cx="662.8" cy="152.0" r="1.8"/>
<circle cx="658.8" cy="165.4" r="1.8"/>
<circle cx="679.0" cy="108.5" r="1.8"/>
<circle cx="691.1" cy="164.1" r="1.8"/>
<circle cx="663.8" cy="109.1" r="1.8"/>
<circle cx="658.0" cy="118.2" r="1.8"/>
<circle cx="683.9" cy="152.4" r="1.8"/>
<circle cx="651.4" cy="81.0" r="1.8"/>
<circle cx="666.6" cy="161.7" r="1.8"/>
<circle cx="663.3" cy="111.7" r="1.8"/>
<circle cx="671.5" cy="110.5" r="1.8"/>
<circle cx="656.3" cy="118.6" r="1.8"/>
<circle cx="676.1" cy="102.4" r="1.8"/>
<circle cx="677.9" cy="129.2" r="1.8"/>
<circle cx="650.2" cy="130.4" r="1.8"/>
<circle cx="699.4" cy="165.0" r="1.8"/>
<circle cx="667.3" cy="104.6" r="1.8"/>
<circle cx="651.0" cy="74.8" r="1.8"/>
<circle cx="667.1" cy="88.6" r="1.8"/>
<circle cx="677.3" cy="85.7" r="1.8"/>
<circle cx="672.3" cy="143.9" r="1.8"/>
<circle cx="660.7" cy="125.5" r="1.8"/>
<circle cx="683.0" cy="91.0" r="1.8"/>
<circle cx="675.4" cy="165.0" r="1.8"/>
<circle cx="678.6" cy="152.0" r="1.8"/>
<circle cx="676.1" cy="135.9" r="1.8"/>
<circle cx="666.1" cy="144.2" r="1.8"/>
<circle cx="676.9" cy="104.9" r="1.8"/>
<circle cx="659.3" cy="146.1" r="1.8"/>
<circle cx="658.6" cy="151.6" r="1.8"/>
<circle cx="651.3" cy="117.3" r="1.8"/>
<circle cx="683.2" cy="147.1" r="1.8"/>
<circle cx="664.5" cy="146.7" r="1.8"/>
<circle cx="669.0" cy="99.0" r="1.8"/>
<circle cx="671.0" cy="114.9" r="1.8"/>
<circle cx="660.7" cy="107.4" r="1.8"/>
<circle cx="677.9" cy="148.2" r="1.8"/>
<circle cx="663.4" cy="87.9" r="1.8"/>
<circle cx="676.6" cy="140.2" r="1.8"/>
<circle cx="664.4" cy="130.2" r="1.8"/>
<circle cx="672.1" cy="126.6" r="1.8"/>
<circle cx="677.4" cy="158.5" r="1.8"/>
<circle cx="671.4" cy="168.1" r="1.8"/>
<circle cx="658.6" cy="102.1" r="1.8"/>
<circle cx="641.6" cy="106.0" r="1.8"/>
<circle cx="653.3" cy="91.3" r="1.8"/>
<circle cx="661.3" cy="105.4" r="1.8"/>
<circle cx="674.0" cy="116.8" r="1.8"/>
<circle cx="657.1" cy="123.3" r="1.8"/>
<circle cx="656.1" cy="106.5" r="1.8"/>
<circle cx="677.6" cy="139.8" r="1.8"/>
<circle cx="690.1" cy="165.7" r="1.8"/>
<circle cx="681.6" cy="124.5" r="1.8"/>
<circle cx="657.2" cy="151.8" r="1.8"/>
<circle cx="658.7" cy="123.0" r="1.8"/>
<circle cx="672.9" cy="117.3" r="1.8"/>
<circle cx="671.4" cy="121.0" r="1.8"/>
<circle cx="649.6" cy="109.2" r="1.8"/>
<circle cx="645.6" cy="139.4" r="1.8"/>
<circle cx="689.6" cy="154.7" r="1.8"/>
</g>
<g fill="#ff0000">
<circle cx="699.1" cy="183.9" r="1.8"/>
<circle cx="715.7" cy="180.7" r="1.8"/>
<circle cx="711.6" cy="178.1" r="1.8"/>
<circle cx="712.0" cy="133.2" r="1.8"/>
<circle cx="707.4" cy="161.7" r="1.8"/>
</g>
<g fill="#0000ff">
<circle cx="652.9" cy="107.9" r="1.8"/>
</g>
<g fill="#ff0000">
<circle cx="687.4" cy="129.0" r="1.8"/>
<circle cx="687.4" cy="134.4" r="1.8"/>
<circle cx="694.1" cy="128.4" r="1.8"/>
<circle cx="684.9" cy="164.4" r="1.8"/>
</g>
<g fill="#cccc00">
<circle cx="629.6" cy="138.4" r="1.8"/>
</g>
<g fill="#0000ff">
<circle cx="645.4" cy="92.7" r="1.8"/>
</g>
<g fill="#ff0000">
<circle cx="660.9" cy="93.6" r="1.8"/>
<circle cx="678.5" cy="162.3" r="1.8"/>
</g>
<g fill="#cccc00">
<circle cx="639.5" cy="138.5" r="1.8"/>
<circle cx="640.6" cy="153.2" r="1.8"/>
</g>
<g fill="#0000ff">
<circle cx="681.7" cy="153.2" r="1.8"/>
<circle cx="660.5" cy="132.6" r="1.8"/>
</g>
<g fill="#cccc00">
<circle cx="616.9" cy="105.6" r="1.8"/>
<circle cx="632.3" cy="101.9" r="1.8"/>
</g>
<g fill="#ff0000">
<circle cx="706.3" cy="130.4" r="1.8"/>
<circle cx="694.0" cy="150.3" r="1.8"/>
<circle cx="680.7" cy="100.7" r="1.8"/>
</g>
<g fill="#0000ff">
<circle cx="660.3" cy="104.6" r="1.8"/>
</g>
<g fill="#cccc00">
<circle cx="647.2" cy="134.9" r="1.8"/>
</g>
<g fill="#ff0000">
<circle cx="686.1" cy="128.8" r="1.8"/>
</g>
<g fill="#cccc00">
<circle cx="651.4" cy="138.2" r="1.8"/>
<circle cx="705.9" cy="125.0" r="1.8"/>
</g>
<g fill="#0000ff">
<circle cx="667.6" cy="149.7" r="1.8"/>
</g>
<g fill="#ff0000">
<circle cx="688.3" cy="116.2" r="1.8"/>
<circle cx="685.0" cy="141.6" r="1.8"/>
</g>
<g fill="#cccc00">
<circle cx="632.3" cy="117.3" r="1.8"/>
<circle cx="644.2" cy="139.8" r="1.8"/>
</g>
<g fill="#ff0000">
<circle cx="695.0" cy="173.7" r="1.8"/>
<circle cx="695.0" cy="151.3" r="1.8"/>
<circle cx="688.5" cy="168.7" r="1.8"/>
<circle cx="657.9" cy="68.6" r="1.8"/>
<circle cx="691.5" cy="135.2" r="1.8"/>
<circle cx="694.9" cy="153.7" r="1.8"/>
<circle cx="669.8" cy="103.5" r="1.8"/>
</g>
<g fill="#cccc00">
<circle cx="625.6" cy="144.3" r="1.8"/>
</g>
<g fill="#ff0000">
<circle cx="689.6" cy="171.1" r="1.8"/>
</g>
<g fill="#cccc00">
<circle cx="640.6" cy="138.5" r="1.8"/>
</g>
<g fill="#ff0000">
<circle cx="708.5" cy="185.3" r="1.8"/>
<circle cx="702.2" cy="188.6" r="1.8"/>
<circle cx="696.0" cy="187.0" r="1.8"/>
<circle cx="664.9" cy="87.6" r="1.8"/>
<circle cx="696.9" cy="173.2" r="1.8"/>
<circle cx="711.2" cy="149.7" r="1.8"/>
</g>
<g fill="#0000ff">
<circle cx="662.5" cy="121.7" r="1.8"/>
<circle cx="675.7" cy="144.1" r="1.8"/>
<circle cx="655.4" cy="99.2" r="1.8"/>
</g>
<g fill="#ff0000">
<circle cx="707.4" cy="169.3" r="1.8"/>
<circle cx="674.3" cy="70.3" r="1.8"/>
<circle cx="687.5" cy="150.1" r="1.8"/>
<circle cx="673.7" cy="119.3" r="1.8"/>
<circle cx="664.3" cy="80.3" r="1.8"/>
<circle cx="666.7" cy="101.9" r="1.8"/>
</g>
<g fill="#cccc00">
<circle cx="612.4" cy="114.1" r="1.8"/>
</g>
<g fill="#ff0000">
<circle cx="660.7" cy="174.1" r="1.8"/>
<circle cx="690.0" cy="146.9" r="1.8"/>
</g>
<g fill="#0000ff">
<circle cx="645.7" cy="136.7" r="1.8"/>
</g>
<g fill="#ff0000">
<circle cx="713.7" cy="187.0" r="1.8"/>
<circle cx="674.3" cy="70.0" r="1.8"/>
</g>
<g fill="#cccc00">
<circle cx="637.7" cy="134.8" r="1.8"/>
</g>
<g fill="#ff0000">
<circle cx="679.2" cy="140.2" r="1.8"/>
<circle cx="695.7" cy="125.9" r="1.8"/>
<circle cx="697.0" cy="189.0" r="1.8"/>
<circle cx="667.4" cy="101.1" r="1.8"/>
<circle cx="670.6" cy="140.4" r="1.8"/>
<circle cx="686.1" cy="138.9" r="1.8"/>
</g>
<g fill="#cccc00">
<circle cx="643.1" cy="161.0" r="1.8"/>
</g>
<g fill="#ff0000">
<circle cx="668.6" cy="109.1" r="1.8"/>
<circle cx="699.5" cy="123.2" r="1.8"/>
<circle cx="689.4" cy="142.8" r="1.8"/>
<circle cx="688.4" cy="133.5" r="1.8"/>
<circle cx="678.0" cy="96.5" r="1.8"/>
</g>
<g fill="#cccc00">
<circle cx="638.0" cy="143.5" r="1.8"/>
<circle cx="616.1" cy="130.5" r="1.8"/>
</g>
<g fill="#0000ff">
<circle cx="656.7" cy="83.5" r="1.8"/>
</g>
<g fill="#ff0000">
<circle cx="696.8" cy="146.0" r="1.8"/>
</g>
<g fill="#0000ff">
<circle cx="648.5" cy="124.8" r="1.8"/>
</g>
<g fill="#ff0000">
<circle cx="716.5" cy="148.2" r="1.8"/>
<circle cx="664.0" cy="80.6" r="1.8"/>
<circle cx="658.6" cy="112.7" r="1.8"/>
<circle cx="660.4" cy="86.6" r="1.8"/>
<circle cx="671.2" cy="125.5" r="1.8"/>
<circle cx="696.4" cy="177.2" r="1.8"/>
<circle cx="681.2" cy="96.6" r="1.8"/>
</g>
<g fill="#cccc00">
<circle cx="639.8" cy="116.1" r="1.8"/>
</g>
<g fill="#0000ff">
<circle cx="659.6" cy="108.3" r="1.8"/>
</g>
<g fill="#ff0000">
<circle cx="675.9" cy="137.3" r="1.8"/>
</g>
<g fill="#0000ff">
<circle cx="658.2" cy="123.5" r="1.8"/>
</g>
<g fill="#ff0000">
<circle cx="674.3" cy="108.4" r="1.8"/>
<circle cx="676.2" cy="159.9" r="1.8"/>
<circle cx="642.3" cy="96.2" r="1.8"/>
</g>
<g fill="#0000ff">
<circle cx="658.6" cy="135.7" r="1.8"/>
</g>
<g fill="#ff0000">
<circle cx="688.4" cy="147.8" r="1.8"/>
<circle cx="675.2" cy="143.6" r="1.8"/>
<circle cx="716.5" cy="121.5" r="1.8"/>
<circle cx="679.4" cy="128.7" r="1.8"/>
<circle cx="704.3" cy="184.9" r="1.8"/>
</g>
<g fill="#0000ff">
<circle cx="646.7" cy="105.7" r="1.8"/>
</g>
<g fill="#ff0000">
<circle cx="655.1" cy="87.9" r="1.8"/>
</g>
<g fill="#cccc00">
<circle cx="634.2" cy="172.2" r="1.8"/>
<circle cx="644.5" cy="140.1" r="1.8"/>
<circle cx="642.3" cy="143.5" r="1.8"/>
<circle cx="655.3" cy="135.3" r="1.8"/>
</g>
<g fill="#ff0000">
<circle cx="697.7" cy="153.9" r="1.8"/>
<circle cx="695.2" cy="148.6" r="1.8"/>
<circle cx="659.9" cy="85.3" r="1.8"/>
<circle cx="690.0" cy="184.8" r="1.8"/>
<circle cx="715.9" cy="143.3" r="1.8"/>
<circle cx="696.3" cy="127.0" r="1.8"/>
<circle cx="689.8" cy="131.0" r="1.8"/>
</g>
<g fill="#0000ff">
<circle cx="637.3" cy="118.5" r="1.8"/>
</g>
<g fill="#ff0000">
<circle cx="686.7" cy="88.5" r="1.8"/>
<circle cx="717.8" cy="138.7" r="1.8"/>
<circle cx="671.3" cy="102.5" r="1.8"/>
<circle cx="668.6" cy="87.8" r="1.8"/>
<circle cx="676.2" cy="101.2" r="1.8"/>
</g>
<g fill="#cccc00">
<circle cx="678.0" cy="180.3" r="1.8"/>
</g>
<g fill="#ff0000">
<circle cx="696.5" cy="132.0" r="1.8"/>
<circle cx="692.0" cy="131.7" r="1.8"/>
<circle cx="669.3" cy="95.0" r="1.8"/>
<circle cx="683.7" cy="168.1" r="1.8"/>
</g>
<g fill="#cccc00">
<circle cx="633.7" cy="59.9" r="1.8"/>
<circle cx="644.2" cy="134.6" r="1.8"/>
</g>
<g fill="#ff0000">
<circle cx="719.9" cy="162.5" r="1.8"/>
<circle cx="709.1" cy="134.2" r="1.8"/>
<circle cx="660.4" cy="94.6" r="1.8"/>
<circle cx="680.8" cy="156.5" r="1.8"/>
</g>
<g fill="#cccc00">
<circle cx="636.1" cy="138.8" r="1.8"/>
</g>
<g fill="#ff0000">
<circle cx="689.4" cy="180.4" r="1.8"/>
</g>
<g fill="#0000ff">
<circle cx="696.0" cy="142.6" r="1.8"/>
</g>
<g fill="#ff0000">
<circle cx="689.5" cy="138.5" r="1.8"/>
</g>
<g fill="#cccc00">
<circle cx="647.7" cy="167.7" r="1.8"/>
</g>
<g fill="#0000ff">
<circle cx="673.1" cy="130.7" r="1.8"/>
</g>
<g fill="#ff0000">
<circle cx="685.6" cy="126.3" r="1.8"/>
<circle cx="671.9" cy="119.1" r="1.8"/>
<circle cx="700.3" cy="152.7" r="1.8"/>
<circle cx="695.6" cy="135.8" r="1.8"/>
</g>
<g fill="#0000ff">
<circle cx="642.3" cy="129.3" r="1.8"/>
</g>
<g fill="#ff0000">
<circle cx="684.9" cy="113.2" r="1.8"/>
<circle cx="669.0" cy="177.6" r="1.8"/>
<circle cx="704.1" cy="115.5" r="1.8"/>
</g>
<g fill="#cccc00">
<circle cx="635.1" cy="149.4" r="1.8"/>
</g>
<g fill="#0000ff">
<circle cx="652.4" cy="91.0" r="1.8"/>
</g>
<g fill="#ff0000">
<circle cx="695.0" cy="154.1" r="1.8"/>
<circle cx="706.5" cy="134.8" r="1.8"/>
</g>
<g fill="#cccc00">
<circle cx="635.4" cy="78.1" r="1.8"/>
<circle cx="636.7" cy="149.6" r="1.8"/>
</g>
<g fill="#ff0000">
<circle cx="641.2" cy="96.7" r="1.8"/>
<circle cx="656.1" cy="87.3" r="1.8"/>
<circle cx="690.3" cy="130.2" r="1.8"/>
<circle cx="709.6" cy="180.6" r="1.8"/>
</g>
<g fill="#cccc00">
<circle cx="639.6" cy="144.7" r="1.8"/>
</g>
<g fill="#ff0000">
<circle cx="663.6" cy="97.2" r="1.8"/>
<circle cx="663.1" cy="108.6" r="1.8"/>
<circle cx="677.1" cy="106.8" r="1.8"/>
<circle cx="678.9" cy="117.4" r="1.8"/>
<circle cx="688.1" cy="103.2" r="1.8"/>
<circle cx="681.5" cy="188.0" r="1.8"/>
<circle cx="673.8" cy="102.3" r="1.8"/>
<circle cx="677.3" cy="95.2" r="1.8"/>
</g>
<g fill="#cccc00">
<circle cx="636.2" cy="133.7" r="1.8"/>
</g>
<g fill="#ff0000">
<circle cx="701.5" cy="129.8" r="1.8"/>
</g>
<g fill="#0000ff">
<circle cx="659.9" cy="128.7" r="1.8"/>
</g>
<g fill="#ff0000">
<circle cx="702.1" cy="128.9" r="1.8"/>
</g>
<g fill="#0000ff">
<circle cx="658.9" cy="125.5" r="1.8"/>
<circle cx="682.9" cy="135.8" r="1.8"/>
<circle cx="649.9" cy="94.7" r="1.8"/>
</g>
<g fill="#cccc00">
<circle cx="585.9" cy="27.3" r="1.8"/>
<circle cx="642.5" cy="147.2" r="1.8"/>
</g>
<g fill="#0000ff">
<circle cx="667.7" cy="147.7" r="1.8"/>
<circle cx="661.5" cy="139.0" r="1.8"/>
<circle cx="687.3" cy="143.9" r="1.8"/>
</g>
<g fill="#cccc00">
<circle cx="632.3" cy="122.8" r="1.8"/>
<circle cx="638.5" cy="104.9" r="1.8"/>
</g>
<g fill="#0000ff">
<circle cx="652.0" cy="97.0" r="1.8"/>
</g>
<g fill="#cccc00">
<circle cx="634.6" cy="138.3" r="1.8"/>
</g>
<g fill="#ff0000">
<circle cx="671.7" cy="92.5" r="1.8"/>
<circle cx="696.3" cy="150.0" r="1.8"/>
</g>
<g fill="#cccc00">
<circle cx="648.8" cy="150.6" r="1.8"/>
</g>
<g fill="#ff0000">
<circle cx="678.7" cy="153.5" r="1.8"/>
<circle cx="669.2" cy="106.8" r="1.8"/>
</g>
<g fill="#cccc00">
<circle cx="632.1" cy="132.5" r="1.8"/>
</g>
<g fill="#ff0000">
<circle cx="706.3" cy="157.1" r="1.8"/>
<circle cx="694.4" cy="126.6" r="1.8"/>
</g>
<g fill="#cccc00">
<circle cx="641.9" cy="149.7" r="1.8"/>
</g>
<g fill="#ff0000">
<circle cx="678.0" cy="94.9" r="1.8"/>
<circle cx="669.7" cy="98.5" r="1.8"/>
</g>
<g fill="#cccc00">
<circle cx="620.8" cy="73.1" r="1.8"/>
</g>
<g fill="#ff0000">
<circle cx="691.3" cy="140.0" r="1.8"/>
<circle cx="705.3" cy="134.1" r="1.8"/>
</g>
<g fill="#cccc00">
<circle cx="635.0" cy="143.3" r="1.8"/>
</g>
<g fill="#0000ff">
<circle cx="657.6" cy="118.4" r="1.8"/>
</g>
<g fill="#ff0000">
<circle cx="688.2" cy="111.5" r="1.8"/>
</g>
<g fill="#cccc00">
<circle cx="641.8" cy="155.4" r="1.8"/>
<circle cx="643.7" cy="162.5" r="1.8"/>
</g>
<g fill="#ff0000">
<circle cx="669.0" cy="91.8" r="1.8"/>
<circle cx="704.9" cy="126.6" r="1.8"/>
</g>
<g fill="#cccc00">
<circle cx="633.8" cy="60.5" r="1.8"/>
</g>
<g fill="#0000ff">
<circle cx="680.1" cy="132.5" r="1.8"/>
</g>
<g fill="#cccc00">
<circle cx="646.1" cy="167.8" r="1.8"/>
<circle cx="640.9" cy="140.5" r="1.8"/>
</g>
<g fill="#ff0000">
<circle cx="694.8" cy="114.6" r="1.8"/>
</g>
<g fill="#cccc00">
<circle cx="706.5" cy="124.8" r="1.8"/>
</g>
<g fill="#ff0000">
<circle cx="680.9" cy="162.8" r="1.8"/>
<circle cx="707.7" cy="120.4" r="1.8"/>
<circle cx="678.3" cy="95.9" r="1.8"/>
<circle cx="691.8" cy="166.0" r="1.8"/>
</g>
<g fill="#0000ff">
<circle cx="645.8" cy="140.5" r="1.8"/>
<circle cx="655.8" cy="118.3" r="1.8"/>
</g>
<g fill="#ff0000">
<circle cx="670.0" cy="107.4" r="1.8"/>
</g>
<g fill="#0000ff">
<circle cx="650.4" cy="137.0" r="1.8"/>
</g>
<g fill="#cccc00">
<circle cx="649.9" cy="149.9" r="1.8"/>
</g>
<g fill="#ff0000">
<circle cx="672.5" cy="125.2" r="1.8"/>
</g>
<g fill="#cccc00">
<circle cx="637.6" cy="148.0" r="1.8"/>
</g>
<g fill="#ff0000">
<circle cx="691.1" cy="129.0" r="1.8"/>
<circle cx="707.3" cy="168.6" r="1.8"/>
<circle cx="653.6" cy="74.3" r="1.8"/>
</g>
<g fill="#0000ff">
<circle cx="669.5" cy="136.5" r="1.8"/>
</g>
<g fill="#ff0000">
<circle cx="691.6" cy="131.4" r="1.8"/>
<circle cx="698.2" cy="124.8" r="1.8"/>
<circle cx="698.3" cy="189.8" r="1.8"/>
</g>
<g fill="#cccc00">
<circle cx="640.7" cy="139.5" r="1.8"/>
</g>
<g fill="#ff0000">
<circle cx="685.9" cy="158.7" r="1.8"/>
</g>
<g fill="#cccc00">
<circle cx="658.1" cy="141.0" r="1.8"/>
<circle cx="633.7" cy="136.5" r="1.8"/>
</g>
<g fill="#ff0000">
<circle cx="697.5" cy="176.1" r="1.8"/>
<circle cx="684.5" cy="130.2" r="1.8"/>
<circle cx="666.2" cy="80.8" r="1.8"/>
</g>
<g fill="#cccc00">
<circle cx="642.3" cy="129.8" r="1.8"/>
</g>
<g fill="#ff0000">
<circle cx="659.0" cy="94.4" r="1.8"/>
<circle cx="668.8" cy="124.4" r="1.8"/>
</g>
<g fill="#cccc00">
<circle cx="633.4" cy="137.3" r="1.8"/>
</g>
<g fill="#ff0000">
<circle cx="687.0" cy="97.4" r="1.8"/>
</g>
<g fill="#0000ff">
<circle cx="657.8" cy="111.2" r="1.8"/>
</g>
<g fill="#ff0000">
<circle cx="713.2" cy="136.4" r="1.8"/>
<circle cx="693.2" cy="121.5" r="1.8"/>
<circle cx="703.0" cy="166.8" r="1.8"/>
<circle cx="682.8" cy="149.7" r="1.8"/>
</g>
<g fill="#cccc00">
<circle cx="600.5" cy="109.1" r="1.8"/>
<circle cx="635.3" cy="139.4" r="1.8"/>
</g>
<g fill="#ff0000">
<circle cx="675.4" cy="131.2" r="1.8"/>
<circle cx="729.2" cy="149.2" r="1.8"/>
</g>
<g fill="#cccc00">
<circle cx="650.8" cy="132.9" r="1.8"/>
</g>
<g fill="#ff0000">
<circle cx="682.2" cy="139.8" r="1.8"/>
<circle cx="678.3" cy="123.4" r="1.8"/>
<circle cx="686.6" cy="88.2" r="1.8"/>
<circle cx="665.4" cy="89.6" r="1.8"/>
<circle cx="690.8" cy="183.9" r="1.8"/>
</g>
<g fill="#0000ff">
<circle cx="655.6" cy="115.3" r="1.8"/>
</g>
<g fill="#ff0000">
<circle cx="671.0" cy="93.5" r="1.8"/>
<circle cx="691.3" cy="142.4" r="1.8"/>
<circle cx="714.0" cy="128.8" r="1.8"/>
<circle cx="708.2" cy="126.4" r="1.8"/>
<circle cx="673.3" cy="136.4" r="1.8"/>
<circle cx="681.7" cy="188.1" r="1.8"/>
</g>
<g fill="#0000ff">
<circle cx="661.2" cy="141.3" r="1.8"/>
</g>
<g fill="#ff0000">
<circle cx="706.1" cy="173.5" r="1.8"/>
<circle cx="654.5" cy="107.4" r="1.8"/>
<circle cx="701.2" cy="177.4" r="1.8"/>
<circle cx="670.9" cy="101.2" r="1.8"/>
<circle cx="683.1" cy="106.6" r="1.8"/>
<circle cx="674.6" cy="89.3" r="1.8"/>
<circle cx="678.2" cy="87.4" r="1.8"/>
<circle cx="669.5" cy="88.7" r="1.8"/>
</g>
<g fill="#cccc00">
<circle cx="624.9" cy="99.2" r="1.8"/>
</g>
<g fill="#ff0000">
<circle cx="684.3" cy="135.0" r="1.8"/>
</g>
<g fill="#0000ff">
<circle cx="695.0" cy="132.6" r="1.8"/>
</g>
<g fill="#ff0000">
<circle cx="680.0" cy="140.0" r="1.8"/>
<circle cx="679.9" cy="135.5" r="1.8"/>
<circle cx="687.0" cy="111.0" r="1.8"/>
<circle cx="683.0" cy="156.5" r="1.8"/>
<circle cx="692.9" cy="121.4" r="1.8"/>
<circle cx="671.1" cy="87.6" r="1.8"/>
</g>
<g fill="#cccc00">
<circle cx="647.4" cy="147.8" r="1.8"/>
</g>
<g fill="#ff0000">
<circle cx="706.6" cy="188.1" r="1.8"/>
<circle cx="684.3" cy="129.4" r="1.8"/>
<circle cx="666.6" cy="94.9" r="1.8"/>
<circle cx="698.9" cy="165.7" r="1.8"/>
</g>
<g fill="#0000ff">
<circle cx="645.6" cy="101.9" r="1.8"/>
</g>
<g fill="#ff0000">
<circle cx="672.2" cy="176.6" r="1.8"/>
<circle cx="695.2" cy="133.1" r="1.8"/>
</g>
<g fill="#0000ff">
<circle cx="667.1" cy="146.6" r="1.8"/>
</g>
<g fill="#cccc00">
<circle cx="640.4" cy="148.8" r="1.8"/>
</g>
<g fill="#ff0000">
<circle cx="686.6" cy="160.2" r="1.8"/>
</g>
<g fill="#cccc00">
<circle cx="598.0" cy="121.8" r="1.8"/>
<circle cx="636.8" cy="157.3" r="1.8"/>
</g>
<g fill="#ff0000">
<circle cx="713.2" cy="188.1" r="1.8"/>
</g>
<g fill="#cccc00">
<circle cx="650.8" cy="147.9" r="1.8"/>
</g>
<g fill="#ff0000">
<circle cx="687.3" cy="123.7" r="1.8"/>
<circle cx="698.1" cy="164.6" r="1.8"/>
</g>
<g fill="#cccc00">
<circle cx="639.8" cy="125.5" r="1.8"/>
<circle cx="598.9" cy="83.1" r="1.8"/>
</g>
<g fill="#0000ff">
<circle cx="683.6" cy="146.2" r="1.8"/>
</g>
<g fill="#cccc00">
<circle cx="653.6" cy="135.0" r="1.8"/>
</g>
<g fill="#0000ff">
<circle cx="643.5" cy="116.8" r="1.8"/>
</g>
<g fill="#ff0000">
<circle cx="646.0" cy="95.0" r="1.8"/>
<circle cx="701.7" cy="146.4" r="1.8"/>
<circle cx="658.6" cy="95.3" r="1.8"/>
</g>
<g fill="#cccc00">
<circle cx="635.5" cy="77.8" r="1.8"/>
</g>
<g fill="#ff0000">
<circle cx="666.7" cy="121.6" r="1.8"/>
<circle cx="687.8" cy="139.8" r="1.8"/>
</g>
<g fill="#0000ff">
<circle cx="663.8" cy="136.4" r="1.8"/>
</g>
<g fill="#ff0000">
<circle cx="684.1" cy="150.2" r="1.8"/>
</g>
<g fill="#cccc00">
<circle cx="653.9" cy="143.6" r="1.8"/>
</g>
<g fill="#ff0000">
<circle cx="658.6" cy="96.6" r="1.8"/>
<circle cx="672.9" cy="90.7" r="1.8"/>
<circle cx="694.9" cy="149.0" r="1.8"/>
</g>
<g fill="#cccc00">
<circle cx="658.6" cy="148.2" r="1.8"/>
</g>
<g fill="#ff0000">
<circle cx="692.2" cy="144.1" r="1.8"/>
<circle cx="670.8" cy="94.3" r="1.8"/>
</g>
<g fill="#0000ff">
<circle cx="641.0" cy="111.1" r="1.8"/>
</g>
<g fill="#ff0000">
<circle cx="713.2" cy="151.6" r="1.8"/>
<circle cx="714.9" cy="121.7" r="1.8"/>
</g>
<rect x="38.00" y="1.50" width="199.00" height="208.90" fill="none" stroke="#a2a2a2" stroke-width="1"/>
<path d="M38.00 210.40v-4.0M38.00 1.50v4.0M44.63 210.40v-2.3M44.63 1.50v2.3M51.27 210.40v-2.3M51.27 1.50v2.3M57.90 210.40v-2.3M57.90 1.50v2.3M64.53 210.40v-2.3M64.53 1.50v2.3M71.17 210.40v-4.0M71.17 1.50v4.0M77.80 210.40v-2.3M77.80 1.50v2.3M84.43 210.40v-2.3M84.43 1.50v2.3M91.07 210.40v-2.3M91.07 1.50v2.3M97.70 210.40v-2.3M97.70 1.50v2.3M104.33 210.40v-4.0M104.33 1.50v4.0M110.97 210.40v-2.3M110.97 1.50v2.3M117.60 210.40v-2.3M117.60 1.50v2.3M124.23 210.40v-2.3M124.23 1.50v2.3M130.87 210.40v-2.3M130.87 1.50v2.3M137.50 210.40v-4.0M137.50 1.50v4.0M144.13 210.40v-2.3M144.13 1.50v2.3M150.77 210.40v-2.3M150.77 1.50v2.3M157.40 210.40v-2.3M157.40 1.50v2.3M164.03 210.40v-2.3M164.03 1.50v2.3M170.67 210.40v-4.0M170.67 1.50v4.0M177.30 210.40v-2.3M177.30 1.50v2.3M183.93 210.40v-2.3M183.93 1.50v2.3M190.57 210.40v-2.3M190.57 1.50v2.3M197.20 210.40v-2.3M197.20 1.50v2.3M203.83 210.40v-4.0M203.83 1.50v4.0M210.47 210.40v-2.3M210.47 1.50v2.3M217.10 210.40v-2.3M217.10 1.50v2.3M223.73 210.40v-2.3M223.73 1.50v2.3M230.37 210.40v-2.3M230.37 1.50v2.3M237.00 210.40v-4.0M237.00 1.50v4.0M38.00 210.40h4.0M237.00 210.40h-4.0M38.00 201.70h2.3M237.00 201.70h-2.3M38.00 192.99h2.3M237.00 192.99h-2.3M38.00 184.29h2.3M237.00 184.29h-2.3M38.00 175.58h4.0M237.00 175.58h-4.0M38.00 166.88h2.3M237.00 166.88h-2.3M38.00 158.18h2.3M237.00 158.18h-2.3M38.00 149.47h2.3M237.00 149.47h-2.3M38.00 140.77h4.0M237.00 140.77h-4.0M38.00 132.06h2.3M237.00 132.06h-2.3M38.00 123.36h2.3M237.00 123.36h-2.3M38.00 114.65h2.3M237.00 114.65h-2.3M38.00 105.95h4.0M237.00 105.95h-4.0M38.00 97.25h2.3M237.00 97.25h-2.3M38.00 88.54h2.3M237.00 88.54h-2.3M38.00 79.84h2.3M237.00 79.84h-2.3M38.00 71.13h4.0M237.00 71.13h-4.0M38.00 62.43h2.3M237.00 62.43h-2.3M38.00 53.73h2.3M237.00 53.73h-2.3M38.00 45.02h2.3M237.00 45.02h-2.3M38.00 36.32h4.0M237.00 36.32h-4.0M38.00 27.61h2.3M237.00 27.61h-2.3M38.00 18.91h2.3M237.00 18.91h-2.3M38.00 10.20h2.3M237.00 10.20h-2.3M38.00 1.50h4.0M237.00 1.50h-4.0" stroke="#a2a2a2" stroke-width="1" fill="none"/>
<text x="38.00" y="226.3" text-anchor="middle">0.5</text>
<text x="71.17" y="226.3" text-anchor="middle">1.0</text>
<text x="104.33" y="226.3" text-anchor="middle">1.5</text>
<text x="137.50" y="226.3" text-anchor="middle">2.0</text>
<text x="170.67" y="226.3" text-anchor="middle">2.5</text>
<text x="203.83" y="226.3" text-anchor="middle">3.0</text>
<text x="237.00" y="226.3" text-anchor="middle">3.5</text>
<text x="35.20" y="210.60" text-anchor="end">0.4</text>
<text x="35.20" y="180.48" text-anchor="end">0.6</text>
<text x="35.20" y="145.67" text-anchor="end">0.8</text>
<text x="35.20" y="110.85" text-anchor="end">1.0</text>
<text x="35.20" y="76.03" text-anchor="end">1.2</text>
<text x="35.20" y="41.22" text-anchor="end">1.4</text>
<text x="35.20" y="9.30" text-anchor="end">1.6</text>
<text x="137.50" y="238.2" text-anchor="middle"><tspan>6.2/11.2 (R</tspan><tspan font-size="8.5" dy="2.80">V</tspan><tspan dy="-2.80">=5.5)</tspan></text>
<text transform="translate(9.40,105.95) rotate(-90)" x="0" y="0" text-anchor="middle"><tspan>6.2/11.2 (Chiar+ 2006/R</tspan><tspan font-size="8.5" dy="2.80">V</tspan><tspan dy="-2.80">=5.5)</tspan></text>
<rect x="295.80" y="1.50" width="198.70" height="208.90" fill="none" stroke="#a2a2a2" stroke-width="1"/>
<path d="M295.80 210.40v-4.0M295.80 1.50v4.0M305.74 210.40v-2.3M305.74 1.50v2.3M315.67 210.40v-2.3M315.67 1.50v2.3M325.61 210.40v-2.3M325.61 1.50v2.3M335.54 210.40v-2.3M335.54 1.50v2.3M345.48 210.40v-4.0M345.48 1.50v4.0M355.41 210.40v-2.3M355.41 1.50v2.3M365.35 210.40v-2.3M365.35 1.50v2.3M375.28 210.40v-2.3M375.28 1.50v2.3M385.22 210.40v-2.3M385.22 1.50v2.3M395.15 210.40v-4.0M395.15 1.50v4.0M405.09 210.40v-2.3M405.09 1.50v2.3M415.02 210.40v-2.3M415.02 1.50v2.3M424.96 210.40v-2.3M424.96 1.50v2.3M434.89 210.40v-2.3M434.89 1.50v2.3M444.82 210.40v-4.0M444.82 1.50v4.0M454.76 210.40v-2.3M454.76 1.50v2.3M464.70 210.40v-2.3M464.70 1.50v2.3M474.63 210.40v-2.3M474.63 1.50v2.3M484.57 210.40v-2.3M484.57 1.50v2.3M494.50 210.40v-4.0M494.50 1.50v4.0M295.80 210.40h4.0M494.50 210.40h-4.0M295.80 202.04h2.3M494.50 202.04h-2.3M295.80 193.69h2.3M494.50 193.69h-2.3M295.80 185.33h2.3M494.50 185.33h-2.3M295.80 176.98h2.3M494.50 176.98h-2.3M295.80 168.62h4.0M494.50 168.62h-4.0M295.80 160.26h2.3M494.50 160.26h-2.3M295.80 151.91h2.3M494.50 151.91h-2.3M295.80 143.55h2.3M494.50 143.55h-2.3M295.80 135.20h2.3M494.50 135.20h-2.3M295.80 126.84h4.0M494.50 126.84h-4.0M295.80 118.48h2.3M494.50 118.48h-2.3M295.80 110.13h2.3M494.50 110.13h-2.3M295.80 101.77h2.3M494.50 101.77h-2.3M295.80 93.42h2.3M494.50 93.42h-2.3M295.80 85.06h4.0M494.50 85.06h-4.0M295.80 76.70h2.3M494.50 76.70h-2.3M295.80 68.35h2.3M494.50 68.35h-2.3M295.80 59.99h2.3M494.50 59.99h-2.3M295.80 51.64h2.3M494.50 51.64h-2.3M295.80 43.28h4.0M494.50 43.28h-4.0M295.80 34.92h2.3M494.50 34.92h-2.3M295.80 26.57h2.3M494.50 26.57h-2.3M295.80 18.21h2.3M494.50 18.21h-2.3M295.80 9.86h2.3M494.50 9.86h-2.3M295.80 1.50h4.0M494.50 1.50h-4.0" stroke="#a2a2a2" stroke-width="1" fill="none"/>
<text x="295.80" y="226.3" text-anchor="middle">0.0</text>
<text x="345.48" y="226.3" text-anchor="middle">0.5</text>
<text x="395.15" y="226.3" text-anchor="middle">1.0</text>
<text x="444.82" y="226.3" text-anchor="middle">1.5</text>
<text x="494.50" y="226.3" text-anchor="middle">2.0</text>
<text x="293.00" y="210.60" text-anchor="end">0.0</text>
<text x="293.00" y="173.52" text-anchor="end">0.5</text>
<text x="293.00" y="131.74" text-anchor="end">1.0</text>
<text x="293.00" y="89.96" text-anchor="end">1.5</text>
<text x="293.00" y="48.18" text-anchor="end">2.0</text>
<text x="293.00" y="9.30" text-anchor="end">2.5</text>
<text x="395.15" y="238.2" text-anchor="middle"><tspan>n</tspan><tspan font-size="7.5" dy="2.80">PAH</tspan><tspan font-size="5.5" dy="-3.40">+</tspan><tspan dy="0.60">/n</tspan><tspan font-size="7.5" dy="2.80">PAH</tspan><tspan font-size="9" dy="0.20">°</tspan><tspan dy="-3.00"> (R</tspan><tspan font-size="8.5" dy="2.80">V</tspan><tspan dy="-2.80">=5.5)</tspan></text>
<text transform="translate(266.80,106.25) rotate(-90)" x="0" y="0" text-anchor="middle"><tspan>n</tspan><tspan font-size="7.5" dy="2.80">PAH</tspan><tspan font-size="5.5" dy="-3.40">+</tspan><tspan dy="0.60">/n</tspan><tspan font-size="7.5" dy="2.80">PAH</tspan><tspan font-size="9" dy="0.20">°</tspan><tspan dy="-3.00"> (Chiar+ 2006/R</tspan><tspan font-size="8.5" dy="2.80">V</tspan><tspan dy="-2.80">=5.5)</tspan></text>
<rect x="553.60" y="1.50" width="198.70" height="208.90" fill="none" stroke="#a2a2a2" stroke-width="1"/>
<path d="M553.60 210.40v-4.0M553.60 1.50v4.0M557.57 210.40v-2.3M557.57 1.50v2.3M561.55 210.40v-2.3M561.55 1.50v2.3M565.52 210.40v-2.3M565.52 1.50v2.3M569.50 210.40v-2.3M569.50 1.50v2.3M573.47 210.40v-2.3M573.47 1.50v2.3M577.44 210.40v-2.3M577.44 1.50v2.3M581.42 210.40v-2.3M581.42 1.50v2.3M585.39 210.40v-2.3M585.39 1.50v2.3M589.37 210.40v-2.3M589.37 1.50v2.3M593.34 210.40v-4.0M593.34 1.50v4.0M597.31 210.40v-2.3M597.31 1.50v2.3M601.29 210.40v-2.3M601.29 1.50v2.3M605.26 210.40v-2.3M605.26 1.50v2.3M609.24 210.40v-2.3M609.24 1.50v2.3M613.21 210.40v-2.3M613.21 1.50v2.3M617.18 210.40v-2.3M617.18 1.50v2.3M621.16 210.40v-2.3M621.16 1.50v2.3M625.13 210.40v-2.3M625.13 1.50v2.3M629.11 210.40v-2.3M629.11 1.50v2.3M633.08 210.40v-4.0M633.08 1.50v4.0M637.05 210.40v-2.3M637.05 1.50v2.3M641.03 210.40v-2.3M641.03 1.50v2.3M645.00 210.40v-2.3M645.00 1.50v2.3M648.98 210.40v-2.3M648.98 1.50v2.3M652.95 210.40v-2.3M652.95 1.50v2.3M656.92 210.40v-2.3M656.92 1.50v2.3M660.90 210.40v-2.3M660.90 1.50v2.3M664.87 210.40v-2.3M664.87 1.50v2.3M668.85 210.40v-2.3M668.85 1.50v2.3M672.82 210.40v-4.0M672.82 1.50v4.0M676.79 210.40v-2.3M676.79 1.50v2.3M680.77 210.40v-2.3M680.77 1.50v2.3M684.74 210.40v-2.3M684.74 1.50v2.3M688.72 210.40v-2.3M688.72 1.50v2.3M692.69 210.40v-2.3M692.69 1.50v2.3M696.66 210.40v-2.3M696.66 1.50v2.3M700.64 210.40v-2.3M700.64 1.50v2.3M704.61 210.40v-2.3M704.61 1.50v2.3M708.59 210.40v-2.3M708.59 1.50v2.3M712.56 210.40v-4.0M712.56 1.50v4.0M716.53 210.40v-2.3M716.53 1.50v2.3M720.51 210.40v-2.3M720.51 1.50v2.3M724.48 210.40v-2.3M724.48 1.50v2.3M728.46 210.40v-2.3M728.46 1.50v2.3M732.43 210.40v-2.3M732.43 1.50v2.3M736.40 210.40v-2.3M736.40 1.50v2.3M740.38 210.40v-2.3M740.38 1.50v2.3M744.35 210.40v-2.3M744.35 1.50v2.3M748.33 210.40v-2.3M748.33 1.50v2.3M752.30 210.40v-4.0M752.30 1.50v4.0M553.60 210.40h4.0M752.30 210.40h-4.0M553.60 206.92h2.3M752.30 206.92h-2.3M553.60 203.44h2.3M752.30 203.44h-2.3M553.60 199.95h2.3M752.30 199.95h-2.3M553.60 196.47h2.3M752.30 196.47h-2.3M553.60 192.99h2.3M752.30 192.99h-2.3M553.60 189.51h2.3M752.30 189.51h-2.3M553.60 186.03h2.3M752.30 186.03h-2.3M553.60 182.55h2.3M752.30 182.55h-2.3M553.60 179.06h2.3M752.30 179.06h-2.3M553.60 175.58h4.0M752.30 175.58h-4.0M553.60 172.10h2.3M752.30 172.10h-2.3M553.60 168.62h2.3M752.30 168.62h-2.3M553.60 165.14h2.3M752.30 165.14h-2.3M553.60 161.66h2.3M752.30 161.66h-2.3M553.60 158.17h2.3M752.30 158.17h-2.3M553.60 154.69h2.3M752.30 154.69h-2.3M553.60 151.21h2.3M752.30 151.21h-2.3M553.60 147.73h2.3M752.30 147.73h-2.3M553.60 144.25h2.3M752.30 144.25h-2.3M553.60 140.77h4.0M752.30 140.77h-4.0M553.60 137.28h2.3M752.30 137.28h-2.3M553.60 133.80h2.3M752.30 133.80h-2.3M553.60 130.32h2.3M752.30 130.32h-2.3M553.60 126.84h2.3M752.30 126.84h-2.3M553.60 123.36h2.3M752.30 123.36h-2.3M553.60 119.88h2.3M752.30 119.88h-2.3M553.60 116.39h2.3M752.30 116.39h-2.3M553.60 112.91h2.3M752.30 112.91h-2.3M553.60 109.43h2.3M752.30 109.43h-2.3M553.60 105.95h4.0M752.30 105.95h-4.0M553.60 102.47h2.3M752.30 102.47h-2.3M553.60 98.99h2.3M752.30 98.99h-2.3M553.60 95.50h2.3M752.30 95.50h-2.3M553.60 92.02h2.3M752.30 92.02h-2.3M553.60 88.54h2.3M752.30 88.54h-2.3M553.60 85.06h2.3M752.30 85.06h-2.3M553.60 81.58h2.3M752.30 81.58h-2.3M553.60 78.10h2.3M752.30 78.10h-2.3M553.60 74.62h2.3M752.30 74.62h-2.3M553.60 71.13h4.0M752.30 71.13h-4.0M553.60 67.65h2.3M752.30 67.65h-2.3M553.60 64.17h2.3M752.30 64.17h-2.3M553.60 60.69h2.3M752.30 60.69h-2.3M553.60 57.21h2.3M752.30 57.21h-2.3M553.60 53.72h2.3M752.30 53.72h-2.3M553.60 50.24h2.3M752.30 50.24h-2.3M553.60 46.76h2.3M752.30 46.76h-2.3M553.60 43.28h2.3M752.30 43.28h-2.3M553.60 39.80h2.3M752.30 39.80h-2.3M553.60 36.32h4.0M752.30 36.32h-4.0M553.60 32.83h2.3M752.30 32.83h-2.3M553.60 29.35h2.3M752.30 29.35h-2.3M553.60 25.87h2.3M752.30 25.87h-2.3M553.60 22.39h2.3M752.30 22.39h-2.3M553.60 18.91h2.3M752.30 18.91h-2.3M553.60 15.43h2.3M752.30 15.43h-2.3M553.60 11.94h2.3M752.30 11.94h-2.3M553.60 8.46h2.3M752.30 8.46h-2.3M553.60 4.98h2.3M752.30 4.98h-2.3M553.60 1.50h4.0M752.30 1.50h-4.0" stroke="#a2a2a2" stroke-width="1" fill="none"/>
<text x="553.60" y="226.3" text-anchor="middle">0.2</text>
<text x="593.34" y="226.3" text-anchor="middle">0.3</text>
<text x="633.08" y="226.3" text-anchor="middle">0.4</text>
<text x="672.82" y="226.3" text-anchor="middle">0.5</text>
<text x="712.56" y="226.3" text-anchor="middle">0.6</text>
<text x="752.30" y="226.3" text-anchor="middle">0.7</text>
<text x="550.80" y="210.60" text-anchor="end">0.8</text>
<text x="550.80" y="180.48" text-anchor="end">0.9</text>
<text x="550.80" y="145.67" text-anchor="end">1.0</text>
<text x="550.80" y="110.85" text-anchor="end">1.1</text>
<text x="550.80" y="76.03" text-anchor="end">1.2</text>
<text x="550.80" y="41.22" text-anchor="end">1.3</text>
<text x="550.80" y="9.30" text-anchor="end">1.4</text>
<text x="652.95" y="238.2" text-anchor="middle"><tspan>large fraction (R</tspan><tspan font-size="8.5" dy="2.80">V</tspan><tspan dy="-2.80">=5.5)</tspan></text>
<text transform="translate(523.80,105.95) rotate(-90)" x="0" y="0" text-anchor="middle"><tspan>large fraction (Chiar+ 2006/R</tspan><tspan font-size="8.5" dy="2.80">V</tspan><tspan dy="-2.80">=5.5)</tspan></text>
</svg></body></html>
